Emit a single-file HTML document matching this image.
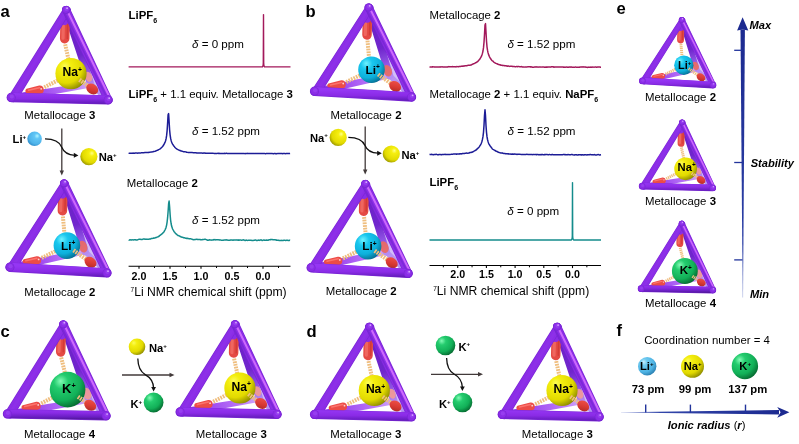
<!DOCTYPE html>
<html><head><meta charset="utf-8"><title>Figure</title>
<style>html,body{margin:0;padding:0;background:#fff}svg{display:block;will-change:transform}</style></head>
<body>
<svg width="799" height="444" viewBox="0 0 799 444" font-family="'Liberation Sans', sans-serif" fill="#000">

<defs>
  <radialGradient id="gNa" cx="0.36" cy="0.32" r="0.72" fx="0.30" fy="0.26">
    <stop offset="0" stop-color="#fcfc58"/><stop offset="0.25" stop-color="#f4ee10"/>
    <stop offset="0.7" stop-color="#e2da00"/><stop offset="1" stop-color="#8f8c00"/>
  </radialGradient>
  <radialGradient id="gLi" cx="0.36" cy="0.32" r="0.72" fx="0.30" fy="0.26">
    <stop offset="0" stop-color="#6ff2ff"/><stop offset="0.3" stop-color="#19c7ee"/>
    <stop offset="0.7" stop-color="#0db0dc"/><stop offset="1" stop-color="#066f92"/>
  </radialGradient>
  <radialGradient id="gK" cx="0.36" cy="0.32" r="0.72" fx="0.30" fy="0.26">
    <stop offset="0" stop-color="#84fbb6"/><stop offset="0.28" stop-color="#24cc6e"/>
    <stop offset="0.7" stop-color="#12b058"/><stop offset="1" stop-color="#066a30"/>
  </radialGradient>
  <radialGradient id="gLiS" cx="0.36" cy="0.32" r="0.72" fx="0.30" fy="0.26">
    <stop offset="0" stop-color="#c8f0ff"/><stop offset="0.25" stop-color="#6fcaf0"/>
    <stop offset="0.7" stop-color="#4fb4e4"/><stop offset="1" stop-color="#2a7eb0"/>
  </radialGradient>
  <linearGradient id="gV" x1="0" y1="0" x2="0" y2="1">
    <stop offset="0" stop-color="#1c2a90"/><stop offset="0.8" stop-color="#2c40a6"/><stop offset="1" stop-color="#8c9ad6"/>
  </linearGradient>
  <linearGradient id="gHz" x1="0" y1="0" x2="1" y2="0">
    <stop offset="0" stop-color="#9aa6dc"/><stop offset="0.25" stop-color="#3246aa"/><stop offset="1" stop-color="#1c2a90"/>
  </linearGradient>

  <radialGradient id="gNaR" cx="0.62" cy="0.36" r="0.72" fx="0.68" fy="0.30">
    <stop offset="0" stop-color="#ffff8a"/><stop offset="0.22" stop-color="#f6ef10"/>
    <stop offset="0.7" stop-color="#e2da00"/><stop offset="1" stop-color="#8f8c00"/>
  </radialGradient>
  <radialGradient id="gLiSR" cx="0.62" cy="0.36" r="0.72" fx="0.68" fy="0.30">
    <stop offset="0" stop-color="#b4f6ff"/><stop offset="0.25" stop-color="#62c6f6"/>
    <stop offset="0.7" stop-color="#4fb4ea"/><stop offset="1" stop-color="#2a86c4"/>
  </radialGradient>
<linearGradient id="gBot" gradientUnits="userSpaceOnUse" x1="0" y1="83" x2="0" y2="95"><stop offset="0" stop-color="#9536f4"/><stop offset="0.45" stop-color="#8a2be6"/><stop offset="0.8" stop-color="#691ec2"/><stop offset="1" stop-color="#4f1796"/></linearGradient>
<linearGradient id="gCap" x1="0.2" y1="0" x2="0.8" y2="1"><stop offset="0" stop-color="#f0524a"/><stop offset="0.55" stop-color="#d93a34"/><stop offset="1" stop-color="#b02a25"/></linearGradient>
<linearGradient id="gBLDNa" gradientUnits="userSpaceOnUse" x1="0.3" y1="87.3" x2="79.8" y2="74.5"><stop offset="0" stop-color="#8b2de6"/><stop offset="0.4" stop-color="#a04cf0"/><stop offset="0.72" stop-color="#b772f7"/><stop offset="1" stop-color="#d0aafa"/></linearGradient>
<linearGradient id="gASNa" gradientUnits="userSpaceOnUse" x1="55" y1="-0.3" x2="79.8" y2="74.5"><stop offset="0" stop-color="#6a20c4"/><stop offset="0.6" stop-color="#7026cd"/><stop offset="0.85" stop-color="#9358e6"/><stop offset="1" stop-color="#b58cf3"/></linearGradient>
<linearGradient id="gBLDLi" gradientUnits="userSpaceOnUse" x1="0.5" y1="84.2" x2="75.5" y2="68.5"><stop offset="0" stop-color="#8b2de6"/><stop offset="0.4" stop-color="#a04cf0"/><stop offset="0.72" stop-color="#b772f7"/><stop offset="1" stop-color="#d0aafa"/></linearGradient>
<linearGradient id="gASLi" gradientUnits="userSpaceOnUse" x1="54.5" y1="0.4" x2="75.5" y2="68.5"><stop offset="0" stop-color="#6a20c4"/><stop offset="0.6" stop-color="#7026cd"/><stop offset="0.85" stop-color="#9358e6"/><stop offset="1" stop-color="#b58cf3"/></linearGradient>
<linearGradient id="gBLDK" gradientUnits="userSpaceOnUse" x1="-0.2" y1="89.5" x2="81.2" y2="75.5"><stop offset="0" stop-color="#8b2de6"/><stop offset="0.4" stop-color="#a04cf0"/><stop offset="0.72" stop-color="#b772f7"/><stop offset="1" stop-color="#d0aafa"/></linearGradient>
<linearGradient id="gASK" gradientUnits="userSpaceOnUse" x1="55.5" y1="0" x2="81.2" y2="75.5"><stop offset="0" stop-color="#6a20c4"/><stop offset="0.6" stop-color="#7026cd"/><stop offset="0.85" stop-color="#9358e6"/><stop offset="1" stop-color="#b58cf3"/></linearGradient>
</defs>

<rect width="799" height="444" fill="#fff"/>
<text x="0.6" y="17.4" font-weight="bold" font-size="16.6">a</text>
<text x="305.6" y="17.4" font-weight="bold" font-size="16.6">b</text>
<text x="0.6" y="336.9" font-weight="bold" font-size="16.6">c</text>
<text x="306.6" y="336.9" font-weight="bold" font-size="16.6">d</text>
<text x="616.6" y="14.4" font-weight="bold" font-size="16.6">e</text>
<text x="616.6" y="336.4" font-weight="bold" font-size="16.6">f</text>
<g transform="translate(11,10.2) scale(1.0)">
<polygon points="55,-0.3 79.8,74.5 97.1,89.7" fill="#cdb6f8" opacity="0.9"/>
<path d="M0.93,91.65 L80.27,77.26 A2.8,2.8 0 0 0 79.33,71.74 L-0.33,84.15 A3.8,3.8 0 0 0 0.93,91.65 Z" fill="url(#gBLDNa)" />
<line x1="79.80" y1="74.50" x2="97.10" y2="89.70" stroke="#b792f3" stroke-width="5.4" stroke-linecap="round" />
<line x1="55.00" y1="-0.30" x2="79.80" y2="74.50" stroke="url(#gASNa)" stroke-width="7.4" stroke-linecap="round" />
<ellipse cx="77.6" cy="66.6" rx="3.5" ry="5.2" fill="#f29a96" opacity="0.92" transform="rotate(-22 77.6 66.6)"/>
<line x1="54.10" y1="13.00" x2="53.70" y2="28.45" stroke="#e44a44" stroke-width="9.5" stroke-linecap="round" />
<line x1="52.30" y1="14.00" x2="52.00" y2="28.00" stroke="#f26c64" stroke-width="3.2" stroke-linecap="round" opacity="0.85"/>
<line x1="56.60" y1="14.00" x2="56.30" y2="28.20" stroke="#c8342f" stroke-width="1.6" stroke-linecap="round" opacity="0.6"/>
<line x1="54.20" y1="34.10" x2="57.60" y2="49.80" stroke="#efbe7e" stroke-width="4.0" stroke-dasharray="1.75 0.95"/>
<path d="M17.21,83.48 L29.19,83.62 A4.15,4.15 0 0 0 28.21,75.38 L16.59,78.32 A2.6,2.6 0 0 0 17.21,83.48 Z" fill="#ec4c47" />
<line x1="17.50" y1="80.00" x2="28.50" y2="77.50" stroke="#ff7a72" stroke-width="1.5" stroke-linecap="round" opacity="0.85"/>
<circle cx="30.2" cy="78.6" r="0.9" fill="#fff" opacity="0.75"/>
<line x1="33.30" y1="77.10" x2="47.46" y2="69.84" stroke="#efbe7e" stroke-width="4.0" stroke-dasharray="1.75 0.95"/>
<circle cx="60" cy="63.4" r="15.6" fill="url(#gNa)"/>
<line x1="68.41" y1="69.51" x2="77.48" y2="76.10" stroke="#efbe7e" stroke-width="4.2" stroke-dasharray="1.75 0.95"/>
<ellipse cx="81.2" cy="78.8" rx="6.4" ry="5.0" fill="url(#gCap)" transform="rotate(36.0 81.2 78.8)"/>
<line x1="55.00" y1="-0.30" x2="53.50" y2="11.10" stroke="#8b2de6" stroke-width="7.6" stroke-linecap="round" />
<path d="M52.49,-1.99 L-1.75,84.81 A4.75,4.75 0 0 0 6.35,89.79 L59.31,2.19 A4.0,4.0 0 0 0 52.49,-1.99 Z" fill="#7a26d6" />
<path d="M53.05,-1.65 L-1.19,85.15 A4.1,4.1 0 0 0 5.79,89.45 L58.75,1.85 A3.35,3.35 0 0 0 53.05,-1.65 Z" fill="#8b2de6" />
<line x1="55.90" y1="0.10" x2="2.30" y2="87.30" stroke="#9339ee" stroke-width="2.6" stroke-linecap="round" opacity="0.3"/>
<line x1="55.20" y1="-0.30" x2="97.30" y2="89.70" stroke="#7a26d6" stroke-width="8.2" stroke-linecap="round" /><line x1="55.20" y1="-0.30" x2="97.30" y2="89.70" stroke="#8b2de6" stroke-width="6.8999999999999995" stroke-linecap="round" /><line x1="55.20" y1="-0.30" x2="97.30" y2="89.70" stroke="#9339ee" stroke-width="2.6239999999999997" stroke-linecap="round" opacity="0.3"/>
<line x1="53.10" y1="2.20" x2="94.80" y2="85.20" stroke="#6f22cc" stroke-width="1.8" stroke-linecap="round" opacity="0.55"/>
<line x1="56.50" y1="1.10" x2="98.20" y2="86.20" stroke="#d470ff" stroke-width="2.0" stroke-linecap="round" opacity="0.9"/>
<line x1="0.30" y1="87.30" x2="97.10" y2="89.70" stroke="#7a26d6" stroke-width="9.4" stroke-linecap="round" />
<line x1="0.30" y1="87.10" x2="97.10" y2="89.50" stroke="url(#gBot)" stroke-width="8.4" stroke-linecap="round" />
<circle cx="55" cy="-0.3" r="4.0" fill="#7a26d6"/>
<circle cx="55" cy="-0.6" r="3.3000000000000003" fill="#8b2de6"/>
<circle cx="55.5" cy="-1.3" r="2.1" fill="#9a42f2" opacity="0.8"/>
<circle cx="56.1" cy="-2.0" r="0.9" fill="#dcb0ff" opacity="0.9"/>
<circle cx="0.3" cy="87.3" r="4.4" fill="#7a26d6"/>
<circle cx="0.3" cy="87.0" r="3.7" fill="#8b2de6"/>
<circle cx="0.8" cy="86.3" r="2.1" fill="#9a42f2" opacity="0.8"/>
<circle cx="97.1" cy="89.7" r="4.4" fill="#7a26d6"/>
<circle cx="97.1" cy="89.4" r="3.7" fill="#8b2de6"/>
<circle cx="97.6" cy="88.7" r="2.1" fill="#9a42f2" opacity="0.8"/>
<circle cx="98.19999999999999" cy="88.0" r="0.9" fill="#dcb0ff" opacity="0.9"/>
<text x="61.3" y="66.00" text-anchor="middle" font-weight="bold" font-size="12.1">Na<tspan font-size="6.78" dy="-4.23">+</tspan></text>
</g>
<text x="59.8" y="118.5" text-anchor="middle" font-size="11.4">Metallocage <tspan font-weight="bold">3</tspan></text>
<g transform="translate(9.5,183.0) scale(1.0)">
<polygon points="54.5,0.4 75.5,68.5 97.4,89.9" fill="#cdb6f8" opacity="0.9"/>
<path d="M1.31,88.51 L76.09,71.24 A2.8,2.8 0 0 0 74.91,65.76 L-0.31,81.09 A3.8,3.8 0 0 0 1.31,88.51 Z" fill="url(#gBLDLi)" />
<line x1="75.50" y1="68.50" x2="97.40" y2="89.90" stroke="#b792f3" stroke-width="5.4" stroke-linecap="round" />
<line x1="54.50" y1="0.40" x2="75.50" y2="68.50" stroke="url(#gASLi)" stroke-width="7.4" stroke-linecap="round" />
<ellipse cx="73.4" cy="63.6" rx="4.3" ry="6.0" fill="#ea6a62" opacity="0.92" transform="rotate(-22 73.4 63.6)"/>
<line x1="53.30" y1="13.00" x2="52.90" y2="27.85" stroke="#e44a44" stroke-width="9.5" stroke-linecap="round" />
<line x1="51.50" y1="14.00" x2="51.20" y2="27.40" stroke="#f26c64" stroke-width="3.2" stroke-linecap="round" opacity="0.85"/>
<line x1="55.80" y1="14.00" x2="55.50" y2="27.60" stroke="#c8342f" stroke-width="1.6" stroke-linecap="round" opacity="0.6"/>
<line x1="53.40" y1="33.50" x2="55.00" y2="51.30" stroke="#efbe7e" stroke-width="4.0" stroke-dasharray="1.75 0.95"/>
<path d="M16.00,81.28 L28.08,81.42 A4.15,4.15 0 0 0 27.12,73.18 L15.40,76.12 A2.6,2.6 0 0 0 16.00,81.28 Z" fill="#ec4c47" />
<line x1="16.30" y1="77.80" x2="27.40" y2="75.30" stroke="#ff7a72" stroke-width="1.5" stroke-linecap="round" opacity="0.85"/>
<circle cx="29.1" cy="76.39999999999999" r="0.9" fill="#fff" opacity="0.75"/>
<line x1="32.20" y1="74.90" x2="46.80" y2="67.78" stroke="#efbe7e" stroke-width="4.0" stroke-dasharray="1.75 0.95"/>
<circle cx="57.4" cy="62.6" r="13.3" fill="url(#gLi)"/>
<line x1="64.01" y1="67.28" x2="77.25" y2="76.64" stroke="#efbe7e" stroke-width="4.2" stroke-dasharray="1.75 0.95"/>
<ellipse cx="81.0" cy="79.3" rx="6.4" ry="5.0" fill="url(#gCap)" transform="rotate(35.3 81.0 79.3)"/>
<line x1="54.50" y1="0.40" x2="53.00" y2="11.80" stroke="#8b2de6" stroke-width="7.6" stroke-linecap="round" />
<path d="M52.02,-1.34 L-1.51,81.66 A4.75,4.75 0 0 0 6.51,86.74 L58.78,2.94 A4.0,4.0 0 0 0 52.02,-1.34 Z" fill="#7a26d6" />
<path d="M52.57,-0.99 L-0.96,82.00 A4.1,4.1 0 0 0 5.96,86.40 L58.23,2.59 A3.35,3.35 0 0 0 52.57,-0.99 Z" fill="#8b2de6" />
<line x1="55.40" y1="0.80" x2="2.50" y2="84.20" stroke="#9339ee" stroke-width="2.6" stroke-linecap="round" opacity="0.3"/>
<line x1="54.70" y1="0.40" x2="97.60" y2="89.90" stroke="#7a26d6" stroke-width="8.2" stroke-linecap="round" /><line x1="54.70" y1="0.40" x2="97.60" y2="89.90" stroke="#8b2de6" stroke-width="6.8999999999999995" stroke-linecap="round" /><line x1="54.70" y1="0.40" x2="97.60" y2="89.90" stroke="#9339ee" stroke-width="2.6239999999999997" stroke-linecap="round" opacity="0.3"/>
<line x1="52.60" y1="2.90" x2="95.10" y2="85.40" stroke="#6f22cc" stroke-width="1.8" stroke-linecap="round" opacity="0.55"/>
<line x1="56.00" y1="1.80" x2="98.50" y2="86.40" stroke="#d470ff" stroke-width="2.0" stroke-linecap="round" opacity="0.9"/>
<line x1="0.50" y1="84.20" x2="97.40" y2="89.90" stroke="#7a26d6" stroke-width="9.4" stroke-linecap="round" />
<line x1="0.50" y1="84.00" x2="97.40" y2="89.70" stroke="url(#gBot)" stroke-width="8.4" stroke-linecap="round" />
<circle cx="54.5" cy="0.4" r="4.0" fill="#7a26d6"/>
<circle cx="54.5" cy="0.10000000000000003" r="3.3000000000000003" fill="#8b2de6"/>
<circle cx="55.0" cy="-0.6" r="2.1" fill="#9a42f2" opacity="0.8"/>
<circle cx="55.6" cy="-1.2999999999999998" r="0.9" fill="#dcb0ff" opacity="0.9"/>
<circle cx="0.5" cy="84.2" r="4.4" fill="#7a26d6"/>
<circle cx="0.5" cy="83.9" r="3.7" fill="#8b2de6"/>
<circle cx="1.0" cy="83.2" r="2.1" fill="#9a42f2" opacity="0.8"/>
<circle cx="97.4" cy="89.9" r="4.4" fill="#7a26d6"/>
<circle cx="97.4" cy="89.60000000000001" r="3.7" fill="#8b2de6"/>
<circle cx="97.9" cy="88.9" r="2.1" fill="#9a42f2" opacity="0.8"/>
<circle cx="98.5" cy="88.2" r="0.9" fill="#dcb0ff" opacity="0.9"/>
<text x="58.699999999999996" y="66.50" text-anchor="middle" font-weight="bold" font-size="11.8">Li<tspan font-size="6.61" dy="-4.13">+</tspan></text>
</g>
<text x="59.8" y="295.6" text-anchor="middle" font-size="11.4">Metallocage <tspan font-weight="bold">2</tspan></text>
<line x1="61.8" y1="128.5" x2="61.8" y2="172" stroke="#423a3a" stroke-width="1.3"/>
<polygon points="59.6,170.5 64,170.5 61.8,175.5" fill="#423a3a"/>
<text x="12.6" y="142.8" font-weight="bold" font-size="11.2" text-anchor="start">Li<tspan font-size="6.16" dy="-4.03">+</tspan></text>
<circle cx="34.6" cy="138.8" r="7.3" fill="url(#gLiSR)"/>
<path d="M45,138.8 C54,138.8 59.4,141.4 61.6,147 C63.6,152 68,155 74.8,155.3" fill="none" stroke="#111" stroke-width="1.3"/>
<polygon points="73.8,152.8 78.4,155.4 73.8,157.8" fill="#111"/>
<circle cx="88.9" cy="156.6" r="8.6" fill="url(#gNaR)"/>
<text x="98.7" y="161.2" font-weight="bold" font-size="11.2" text-anchor="start">Na<tspan font-size="6.16" dy="-4.03">+</tspan></text>
<text x="128.6" y="18.7" font-weight="bold" font-size="11.4">LiPF<tspan font-size="7" dy="3.9">6</tspan></text>
<path d="M128.6,66.9 H262.1 Q263.2,66.9 263.3,62.900000000000006 L263.5,14.6 L263.7,62.900000000000006 Q263.8,66.9 264.9,66.9 H290.5" fill="none" stroke="#a3195b" stroke-width="1.4" stroke-linejoin="round"/>
<text x="192" y="47.7" font-size="11.6"><tspan font-style="italic">δ</tspan> = 0 ppm</text>
<text x="128.6" y="98.2" font-size="11.4"><tspan font-weight="bold">LiPF</tspan><tspan font-weight="bold" font-size="7" dy="3.9">6</tspan><tspan dy="-3.9"> + 1.1 equiv. Metallocage </tspan><tspan font-weight="bold">3</tspan></text>
<polyline points="128.6,153.19 129.1,153.28 129.6,153.31 130.1,153.23 130.6,153.22 131.1,153.21 131.6,153.23 132.1,153.27 132.6,153.15 133.1,153.06 133.6,153.16 134.1,153.14 134.6,153.18 135.1,153.06 135.6,153.06 136.1,153.11 136.6,153.04 137.1,153.12 137.6,153.16 138.1,153.01 138.6,152.91 139.1,152.94 139.6,153.03 140.1,152.96 140.6,152.88 141.1,152.86 141.6,152.77 142.1,152.73 142.6,152.74 143.1,152.75 143.6,152.69 144.1,152.64 144.6,152.59 145.1,152.59 145.6,152.55 146.1,152.45 146.6,152.53 147.1,152.50 147.6,152.48 148.1,152.36 148.6,152.42 149.1,152.40 149.6,152.22 150.1,152.13 150.6,152.11 151.1,152.07 151.6,152.05 152.1,151.90 152.6,151.84 153.1,151.73 153.6,151.55 154.1,151.44 154.6,151.37 155.1,151.26 155.6,151.06 156.1,150.88 156.6,150.58 157.1,150.35 157.6,150.22 158.1,149.97 158.6,149.65 159.1,149.40 159.6,149.13 160.1,148.81 160.6,148.39 161.1,147.95 161.6,147.49 162.1,147.03 162.6,146.45 163.1,145.77 163.6,145.05 164.1,144.14 164.6,143.13 165.1,142.07 165.6,140.70 166.1,138.67 166.6,135.64 167.1,130.81 167.6,123.33 168.1,114.74 168.6,113.60 169.1,121.61 169.6,129.72 170.1,134.86 170.6,138.13 171.1,140.38 171.6,141.92 172.1,143.10 172.6,144.03 173.1,144.89 173.6,145.72 174.1,146.25 174.6,146.90 175.1,147.48 175.6,147.99 176.1,148.42 176.6,148.82 177.1,149.13 177.6,149.43 178.1,149.68 178.6,149.86 179.1,150.20 179.6,150.42 180.1,150.56 180.6,150.76 181.1,150.94 181.6,151.07 182.1,151.20 182.6,151.36 183.1,151.52 183.6,151.65 184.1,151.73 184.6,151.74 185.1,151.81 185.6,151.87 186.1,152.02 186.6,152.18 187.1,152.29 187.6,152.38 188.1,152.46 188.6,152.42 189.1,152.53 189.6,152.58 190.1,152.51 190.6,152.47 191.1,152.46 191.6,152.62 192.1,152.62 192.6,152.61 193.1,152.72 193.6,152.74 194.1,152.71 194.6,152.72 195.1,152.80 195.6,152.79 196.1,152.82 196.6,152.92 197.1,152.95 197.6,152.94 198.1,152.98 198.6,152.92 199.1,152.96 199.6,152.99 200.1,152.98 200.6,152.96 201.1,153.10 201.6,153.12 202.1,153.08 202.6,153.14 203.1,153.21 203.6,153.11 204.1,153.06 204.6,153.05 205.1,153.16 205.6,153.12 206.1,153.21 206.6,153.26 207.1,153.27 207.6,153.21 208.1,153.33 208.6,153.37 209.1,153.34 209.6,153.27 210.1,153.31 210.6,153.29 211.1,153.32 211.6,153.28 212.1,153.33 212.6,153.25 213.1,153.25 213.6,153.38 214.1,153.44 214.6,153.37 215.1,153.43 215.6,153.37 216.1,153.46 216.6,153.47 217.1,153.42 217.6,153.36 218.1,153.28 218.6,153.40 219.1,153.31 219.6,153.41 220.1,153.49 220.6,153.47 221.1,153.39 221.6,153.47 222.1,153.54 222.6,153.53 223.1,153.49 223.6,153.44 224.1,153.41 224.6,153.36 225.1,153.43 225.6,153.42 226.1,153.37 226.6,153.32 227.1,153.40 227.6,153.38 228.1,153.41 228.6,153.39 229.1,153.49 229.6,153.55 230.1,153.42 230.6,153.38 231.1,153.38 231.6,153.51 232.1,153.55 232.6,153.49 233.1,153.43 233.6,153.48 234.1,153.54 234.6,153.60 235.1,153.52 235.6,153.58 236.1,153.58 236.6,153.54 237.1,153.61 237.6,153.51 238.1,153.55 238.6,153.45 239.1,153.40 239.6,153.52 240.1,153.45 240.6,153.52 241.1,153.53 241.6,153.58 242.1,153.53 242.6,153.49 243.1,153.45 243.6,153.55 244.1,153.55 244.6,153.62 245.1,153.65 245.6,153.52 246.1,153.53 246.6,153.45 247.1,153.39 247.6,153.36 248.1,153.49 248.6,153.56 249.1,153.60 249.6,153.54 250.1,153.55 250.6,153.59 251.1,153.54 251.6,153.55 252.1,153.49 252.6,153.42 253.1,153.42 253.6,153.54 254.1,153.55 254.6,153.62 255.1,153.58 255.6,153.51 256.1,153.58 256.6,153.62 257.1,153.49 257.6,153.54 258.1,153.46 258.6,153.42 259.1,153.54 259.6,153.45 260.1,153.43 260.6,153.57 261.1,153.54 261.6,153.47 262.1,153.43 262.6,153.43 263.1,153.52 263.6,153.45 264.1,153.57 264.6,153.53 265.1,153.63 265.6,153.67 266.1,153.58 266.6,153.52 267.1,153.53 267.6,153.46 268.1,153.52 268.6,153.44 269.1,153.39 269.6,153.55 270.1,153.51 270.6,153.54 271.1,153.54 271.6,153.51 272.1,153.44 272.6,153.56 273.1,153.65 273.6,153.70 274.1,153.57 274.6,153.51 275.1,153.55 275.6,153.64 276.1,153.61 276.6,153.63 277.1,153.63 277.6,153.55 278.1,153.56 278.6,153.52 279.1,153.49 279.6,153.43 280.1,153.44 280.6,153.58 281.1,153.56 281.6,153.59 282.1,153.60 282.6,153.67 283.1,153.61 283.6,153.55 284.1,153.52 284.6,153.50 285.1,153.59 285.6,153.65 286.1,153.58 286.6,153.54 287.1,153.56 287.6,153.57 288.1,153.59 288.6,153.53 289.1,153.45 289.6,153.45 290.1,153.41" fill="none" stroke="#1c1c96" stroke-width="1.5" stroke-linejoin="round"/>
<text x="192" y="134.5" font-size="11.6"><tspan font-style="italic">δ</tspan> = 1.52 ppm</text>
<text x="126.8" y="186.9" font-size="11.4">Metallocage <tspan font-weight="bold">2</tspan></text>
<polyline points="128.6,240.14 129.1,240.26 129.6,239.88 130.1,239.66 130.6,239.90 131.1,240.00 131.6,240.01 132.1,239.83 132.6,239.87 133.1,239.89 133.6,239.88 134.1,239.66 134.6,239.65 135.1,239.63 135.6,239.77 136.1,239.99 136.6,240.09 137.1,239.94 137.6,239.79 138.1,239.60 138.6,239.35 139.1,239.20 139.6,239.31 140.1,239.30 140.6,239.31 141.1,239.57 141.6,239.53 142.1,239.51 142.6,239.31 143.1,239.08 143.6,239.07 144.1,238.96 144.6,239.07 145.1,239.37 145.6,239.36 146.1,239.09 146.6,239.27 147.1,239.30 147.6,239.27 148.1,239.31 148.6,239.24 149.1,239.18 149.6,238.90 150.1,239.02 150.6,239.04 151.1,238.61 151.6,238.62 152.1,238.57 152.6,238.36 153.1,238.22 153.6,238.07 154.1,238.15 154.6,237.92 155.1,237.88 155.6,237.55 156.1,237.55 156.6,237.48 157.1,237.12 157.6,236.87 158.1,236.79 158.6,236.54 159.1,236.14 159.6,235.63 160.1,235.24 160.6,235.04 161.1,234.47 161.6,234.32 162.1,233.70 162.6,233.43 163.1,232.70 163.6,232.32 164.1,231.63 164.6,230.74 165.1,229.76 165.6,228.65 166.1,227.18 166.6,225.05 167.1,222.03 167.6,217.71 168.1,211.45 168.6,203.96 169.1,201.07 169.6,206.73 170.1,214.32 170.6,220.09 171.1,223.51 171.6,226.09 172.1,227.55 172.6,229.00 173.1,229.93 173.6,230.71 174.1,231.74 174.6,232.17 175.1,232.84 175.6,233.58 176.1,233.88 176.6,234.20 177.1,234.87 177.6,235.16 178.1,235.60 178.6,235.63 179.1,235.91 179.6,236.07 180.1,236.51 180.6,236.55 181.1,237.09 181.6,237.00 182.1,237.37 182.6,237.29 183.1,237.41 183.6,237.82 184.1,237.78 184.6,237.80 185.1,238.12 185.6,238.19 186.1,238.09 186.6,238.55 187.1,238.43 187.6,238.32 188.1,238.44 188.6,238.68 189.1,238.91 189.6,238.75 190.1,238.79 190.6,238.67 191.1,238.84 191.6,239.11 192.1,239.29 192.6,239.49 193.1,239.55 193.6,239.65 194.1,239.65 194.6,239.54 195.1,239.36 195.6,239.49 196.1,239.40 196.6,239.24 197.1,239.34 197.6,239.62 198.1,239.42 198.6,239.54 199.1,239.53 199.6,239.59 200.1,239.44 200.6,239.78 201.1,239.63 201.6,239.72 202.1,239.69 202.6,239.47 203.1,239.62 203.6,239.50 204.1,239.40 204.6,239.32 205.1,239.35 205.6,239.34 206.1,239.61 206.6,239.72 207.1,240.03 207.6,240.19 208.1,240.32 208.6,240.02 209.1,239.95 209.6,239.81 210.1,239.90 210.6,239.98 211.1,240.12 211.6,240.16 212.1,239.96 212.6,239.92 213.1,239.96 213.6,239.71 214.1,239.59 214.6,239.70 215.1,239.62 215.6,239.89 216.1,239.81 216.6,239.69 217.1,239.66 217.6,239.67 218.1,239.67 218.6,239.83 219.1,239.90 219.6,239.86 220.1,240.01 220.6,239.88 221.1,240.16 221.6,240.36 222.1,240.36 222.6,240.22 223.1,240.17 223.6,240.18 224.1,239.91 224.6,239.94 225.1,240.02 225.6,239.89 226.1,239.76 226.6,240.06 227.1,240.01 227.6,240.06 228.1,240.30 228.6,240.28 229.1,240.11 229.6,240.36 230.1,240.20 230.6,239.93 231.1,240.10 231.6,239.91 232.1,239.90 232.6,240.17 233.1,240.25 233.6,239.96 234.1,240.01 234.6,240.02 235.1,240.07 235.6,239.95 236.1,240.08 236.6,239.89 237.1,239.89 237.6,239.93 238.1,240.25 238.6,240.00 239.1,240.20 239.6,240.03 240.1,240.12 240.6,240.09 241.1,240.10 241.6,240.26 242.1,240.17 242.6,239.98 243.1,239.87 243.6,239.78 244.1,240.12 244.6,240.22 245.1,240.44 245.6,240.44 246.1,240.10 246.6,240.22 247.1,240.35 247.6,240.40 248.1,240.32 248.6,240.20 249.1,240.18 249.6,240.34 250.1,240.16 250.6,240.19 251.1,240.19 251.6,240.43 252.1,240.49 252.6,240.60 253.1,240.61 253.6,240.35 254.1,240.16 254.6,240.17 255.1,240.06 255.6,240.09 256.1,240.23 256.6,240.44 257.1,240.39 257.6,240.48 258.1,240.17 258.6,240.12 259.1,240.41 259.6,240.15 260.1,240.14 260.6,239.95 261.1,239.85 261.6,240.20 262.1,240.46 262.6,240.44 263.1,240.17 263.6,240.09 264.1,240.00 264.6,240.18 265.1,240.29 265.6,240.23 266.1,240.23 266.6,240.01 267.1,240.08 267.6,240.30 268.1,240.30 268.6,239.92 269.1,239.85 269.6,239.85 270.1,239.56 270.6,239.67 271.1,239.49 271.6,239.50 272.1,239.38 272.6,239.65 273.1,239.76 273.6,239.79 274.1,239.64 274.6,239.76 275.1,239.66 275.6,239.91 276.1,240.23 276.6,240.07 277.1,240.14 277.6,240.18 278.1,240.16 278.6,240.30 279.1,240.50 279.6,240.51 280.1,240.39 280.6,240.57 281.1,240.35 281.6,240.44 282.1,240.44 282.6,240.50 283.1,240.58 283.6,240.31 284.1,240.35 284.6,240.26 285.1,240.34 285.6,240.55 286.1,240.50 286.6,240.15 287.1,240.17 287.6,240.31 288.1,240.49 288.6,240.47 289.1,240.55 289.6,240.18 290.1,240.44" fill="none" stroke="#148c8c" stroke-width="1.5" stroke-linejoin="round"/>
<text x="192" y="224" font-size="11.6"><tspan font-style="italic">δ</tspan> = 1.52 ppm</text>
<line x1="128.6" y1="266.2" x2="290.5" y2="266.2" stroke="#000" stroke-width="1.1"/>
<line x1="263" y1="266.2" x2="263" y2="268.8" stroke="#000" stroke-width="1.1"/>
<text x="263" y="279.7" text-anchor="middle" font-weight="bold" font-size="10.7">0.0</text>
<line x1="232" y1="266.2" x2="232" y2="268.8" stroke="#000" stroke-width="1.1"/>
<text x="232" y="279.7" text-anchor="middle" font-weight="bold" font-size="10.7">0.5</text>
<line x1="201" y1="266.2" x2="201" y2="268.8" stroke="#000" stroke-width="1.1"/>
<text x="201" y="279.7" text-anchor="middle" font-weight="bold" font-size="10.7">1.0</text>
<line x1="170" y1="266.2" x2="170" y2="268.8" stroke="#000" stroke-width="1.1"/>
<text x="170" y="279.7" text-anchor="middle" font-weight="bold" font-size="10.7">1.5</text>
<line x1="139" y1="266.2" x2="139" y2="268.8" stroke="#000" stroke-width="1.1"/>
<text x="139" y="279.7" text-anchor="middle" font-weight="bold" font-size="10.7">2.0</text>
<line x1="278.5" y1="266.2" x2="278.5" y2="268.0" stroke="#000" stroke-width="1"/>
<line x1="247.5" y1="266.2" x2="247.5" y2="268.0" stroke="#000" stroke-width="1"/>
<line x1="216.5" y1="266.2" x2="216.5" y2="268.0" stroke="#000" stroke-width="1"/>
<line x1="185.5" y1="266.2" x2="185.5" y2="268.0" stroke="#000" stroke-width="1"/>
<line x1="154.5" y1="266.2" x2="154.5" y2="268.0" stroke="#000" stroke-width="1"/>
<text x="130.5" y="296.2" font-size="12.15"><tspan font-size="6.5" dy="-3.8">7</tspan><tspan dy="3.8">Li NMR chemical shift (ppm)</tspan></text>
<g transform="translate(314.1,7.1) scale(1.0)">
<polygon points="54.5,0.4 75.5,68.5 97.4,89.9" fill="#cdb6f8" opacity="0.9"/>
<path d="M1.31,88.51 L76.09,71.24 A2.8,2.8 0 0 0 74.91,65.76 L-0.31,81.09 A3.8,3.8 0 0 0 1.31,88.51 Z" fill="url(#gBLDLi)" />
<line x1="75.50" y1="68.50" x2="97.40" y2="89.90" stroke="#b792f3" stroke-width="5.4" stroke-linecap="round" />
<line x1="54.50" y1="0.40" x2="75.50" y2="68.50" stroke="url(#gASLi)" stroke-width="7.4" stroke-linecap="round" />
<ellipse cx="73.4" cy="63.6" rx="4.3" ry="6.0" fill="#ea6a62" opacity="0.92" transform="rotate(-22 73.4 63.6)"/>
<line x1="53.30" y1="13.00" x2="52.90" y2="27.85" stroke="#e44a44" stroke-width="9.5" stroke-linecap="round" />
<line x1="51.50" y1="14.00" x2="51.20" y2="27.40" stroke="#f26c64" stroke-width="3.2" stroke-linecap="round" opacity="0.85"/>
<line x1="55.80" y1="14.00" x2="55.50" y2="27.60" stroke="#c8342f" stroke-width="1.6" stroke-linecap="round" opacity="0.6"/>
<line x1="53.40" y1="33.50" x2="55.00" y2="51.30" stroke="#efbe7e" stroke-width="4.0" stroke-dasharray="1.75 0.95"/>
<path d="M16.00,81.28 L28.08,81.42 A4.15,4.15 0 0 0 27.12,73.18 L15.40,76.12 A2.6,2.6 0 0 0 16.00,81.28 Z" fill="#ec4c47" />
<line x1="16.30" y1="77.80" x2="27.40" y2="75.30" stroke="#ff7a72" stroke-width="1.5" stroke-linecap="round" opacity="0.85"/>
<circle cx="29.1" cy="76.39999999999999" r="0.9" fill="#fff" opacity="0.75"/>
<line x1="32.20" y1="74.90" x2="46.80" y2="67.78" stroke="#efbe7e" stroke-width="4.0" stroke-dasharray="1.75 0.95"/>
<circle cx="57.4" cy="62.6" r="13.3" fill="url(#gLi)"/>
<line x1="64.01" y1="67.28" x2="77.25" y2="76.64" stroke="#efbe7e" stroke-width="4.2" stroke-dasharray="1.75 0.95"/>
<ellipse cx="81.0" cy="79.3" rx="6.4" ry="5.0" fill="url(#gCap)" transform="rotate(35.3 81.0 79.3)"/>
<line x1="54.50" y1="0.40" x2="53.00" y2="11.80" stroke="#8b2de6" stroke-width="7.6" stroke-linecap="round" />
<path d="M52.02,-1.34 L-1.51,81.66 A4.75,4.75 0 0 0 6.51,86.74 L58.78,2.94 A4.0,4.0 0 0 0 52.02,-1.34 Z" fill="#7a26d6" />
<path d="M52.57,-0.99 L-0.96,82.00 A4.1,4.1 0 0 0 5.96,86.40 L58.23,2.59 A3.35,3.35 0 0 0 52.57,-0.99 Z" fill="#8b2de6" />
<line x1="55.40" y1="0.80" x2="2.50" y2="84.20" stroke="#9339ee" stroke-width="2.6" stroke-linecap="round" opacity="0.3"/>
<line x1="54.70" y1="0.40" x2="97.60" y2="89.90" stroke="#7a26d6" stroke-width="8.2" stroke-linecap="round" /><line x1="54.70" y1="0.40" x2="97.60" y2="89.90" stroke="#8b2de6" stroke-width="6.8999999999999995" stroke-linecap="round" /><line x1="54.70" y1="0.40" x2="97.60" y2="89.90" stroke="#9339ee" stroke-width="2.6239999999999997" stroke-linecap="round" opacity="0.3"/>
<line x1="52.60" y1="2.90" x2="95.10" y2="85.40" stroke="#6f22cc" stroke-width="1.8" stroke-linecap="round" opacity="0.55"/>
<line x1="56.00" y1="1.80" x2="98.50" y2="86.40" stroke="#d470ff" stroke-width="2.0" stroke-linecap="round" opacity="0.9"/>
<line x1="0.50" y1="84.20" x2="97.40" y2="89.90" stroke="#7a26d6" stroke-width="9.4" stroke-linecap="round" />
<line x1="0.50" y1="84.00" x2="97.40" y2="89.70" stroke="url(#gBot)" stroke-width="8.4" stroke-linecap="round" />
<circle cx="54.5" cy="0.4" r="4.0" fill="#7a26d6"/>
<circle cx="54.5" cy="0.10000000000000003" r="3.3000000000000003" fill="#8b2de6"/>
<circle cx="55.0" cy="-0.6" r="2.1" fill="#9a42f2" opacity="0.8"/>
<circle cx="55.6" cy="-1.2999999999999998" r="0.9" fill="#dcb0ff" opacity="0.9"/>
<circle cx="0.5" cy="84.2" r="4.4" fill="#7a26d6"/>
<circle cx="0.5" cy="83.9" r="3.7" fill="#8b2de6"/>
<circle cx="1.0" cy="83.2" r="2.1" fill="#9a42f2" opacity="0.8"/>
<circle cx="97.4" cy="89.9" r="4.4" fill="#7a26d6"/>
<circle cx="97.4" cy="89.60000000000001" r="3.7" fill="#8b2de6"/>
<circle cx="97.9" cy="88.9" r="2.1" fill="#9a42f2" opacity="0.8"/>
<circle cx="98.5" cy="88.2" r="0.9" fill="#dcb0ff" opacity="0.9"/>
<text x="58.699999999999996" y="66.50" text-anchor="middle" font-weight="bold" font-size="11.8">Li<tspan font-size="6.61" dy="-4.13">+</tspan></text>
</g>
<text x="366" y="118.5" text-anchor="middle" font-size="11.4">Metallocage <tspan font-weight="bold">2</tspan></text>
<g transform="translate(310.7,183.5) scale(1.0)">
<polygon points="54.5,0.4 75.5,68.5 97.4,89.9" fill="#cdb6f8" opacity="0.9"/>
<path d="M1.31,88.51 L76.09,71.24 A2.8,2.8 0 0 0 74.91,65.76 L-0.31,81.09 A3.8,3.8 0 0 0 1.31,88.51 Z" fill="url(#gBLDLi)" />
<line x1="75.50" y1="68.50" x2="97.40" y2="89.90" stroke="#b792f3" stroke-width="5.4" stroke-linecap="round" />
<line x1="54.50" y1="0.40" x2="75.50" y2="68.50" stroke="url(#gASLi)" stroke-width="7.4" stroke-linecap="round" />
<ellipse cx="73.4" cy="63.6" rx="4.3" ry="6.0" fill="#ea6a62" opacity="0.92" transform="rotate(-22 73.4 63.6)"/>
<line x1="53.30" y1="13.00" x2="52.90" y2="27.85" stroke="#e44a44" stroke-width="9.5" stroke-linecap="round" />
<line x1="51.50" y1="14.00" x2="51.20" y2="27.40" stroke="#f26c64" stroke-width="3.2" stroke-linecap="round" opacity="0.85"/>
<line x1="55.80" y1="14.00" x2="55.50" y2="27.60" stroke="#c8342f" stroke-width="1.6" stroke-linecap="round" opacity="0.6"/>
<line x1="53.40" y1="33.50" x2="55.00" y2="51.30" stroke="#efbe7e" stroke-width="4.0" stroke-dasharray="1.75 0.95"/>
<path d="M16.00,81.28 L28.08,81.42 A4.15,4.15 0 0 0 27.12,73.18 L15.40,76.12 A2.6,2.6 0 0 0 16.00,81.28 Z" fill="#ec4c47" />
<line x1="16.30" y1="77.80" x2="27.40" y2="75.30" stroke="#ff7a72" stroke-width="1.5" stroke-linecap="round" opacity="0.85"/>
<circle cx="29.1" cy="76.39999999999999" r="0.9" fill="#fff" opacity="0.75"/>
<line x1="32.20" y1="74.90" x2="46.80" y2="67.78" stroke="#efbe7e" stroke-width="4.0" stroke-dasharray="1.75 0.95"/>
<circle cx="57.4" cy="62.6" r="13.3" fill="url(#gLi)"/>
<line x1="64.01" y1="67.28" x2="77.25" y2="76.64" stroke="#efbe7e" stroke-width="4.2" stroke-dasharray="1.75 0.95"/>
<ellipse cx="81.0" cy="79.3" rx="6.4" ry="5.0" fill="url(#gCap)" transform="rotate(35.3 81.0 79.3)"/>
<line x1="54.50" y1="0.40" x2="53.00" y2="11.80" stroke="#8b2de6" stroke-width="7.6" stroke-linecap="round" />
<path d="M52.02,-1.34 L-1.51,81.66 A4.75,4.75 0 0 0 6.51,86.74 L58.78,2.94 A4.0,4.0 0 0 0 52.02,-1.34 Z" fill="#7a26d6" />
<path d="M52.57,-0.99 L-0.96,82.00 A4.1,4.1 0 0 0 5.96,86.40 L58.23,2.59 A3.35,3.35 0 0 0 52.57,-0.99 Z" fill="#8b2de6" />
<line x1="55.40" y1="0.80" x2="2.50" y2="84.20" stroke="#9339ee" stroke-width="2.6" stroke-linecap="round" opacity="0.3"/>
<line x1="54.70" y1="0.40" x2="97.60" y2="89.90" stroke="#7a26d6" stroke-width="8.2" stroke-linecap="round" /><line x1="54.70" y1="0.40" x2="97.60" y2="89.90" stroke="#8b2de6" stroke-width="6.8999999999999995" stroke-linecap="round" /><line x1="54.70" y1="0.40" x2="97.60" y2="89.90" stroke="#9339ee" stroke-width="2.6239999999999997" stroke-linecap="round" opacity="0.3"/>
<line x1="52.60" y1="2.90" x2="95.10" y2="85.40" stroke="#6f22cc" stroke-width="1.8" stroke-linecap="round" opacity="0.55"/>
<line x1="56.00" y1="1.80" x2="98.50" y2="86.40" stroke="#d470ff" stroke-width="2.0" stroke-linecap="round" opacity="0.9"/>
<line x1="0.50" y1="84.20" x2="97.40" y2="89.90" stroke="#7a26d6" stroke-width="9.4" stroke-linecap="round" />
<line x1="0.50" y1="84.00" x2="97.40" y2="89.70" stroke="url(#gBot)" stroke-width="8.4" stroke-linecap="round" />
<circle cx="54.5" cy="0.4" r="4.0" fill="#7a26d6"/>
<circle cx="54.5" cy="0.10000000000000003" r="3.3000000000000003" fill="#8b2de6"/>
<circle cx="55.0" cy="-0.6" r="2.1" fill="#9a42f2" opacity="0.8"/>
<circle cx="55.6" cy="-1.2999999999999998" r="0.9" fill="#dcb0ff" opacity="0.9"/>
<circle cx="0.5" cy="84.2" r="4.4" fill="#7a26d6"/>
<circle cx="0.5" cy="83.9" r="3.7" fill="#8b2de6"/>
<circle cx="1.0" cy="83.2" r="2.1" fill="#9a42f2" opacity="0.8"/>
<circle cx="97.4" cy="89.9" r="4.4" fill="#7a26d6"/>
<circle cx="97.4" cy="89.60000000000001" r="3.7" fill="#8b2de6"/>
<circle cx="97.9" cy="88.9" r="2.1" fill="#9a42f2" opacity="0.8"/>
<circle cx="98.5" cy="88.2" r="0.9" fill="#dcb0ff" opacity="0.9"/>
<text x="58.699999999999996" y="66.50" text-anchor="middle" font-weight="bold" font-size="11.8">Li<tspan font-size="6.61" dy="-4.13">+</tspan></text>
</g>
<text x="361.2" y="295.2" text-anchor="middle" font-size="11.4">Metallocage <tspan font-weight="bold">2</tspan></text>
<line x1="365.2" y1="126.6" x2="365.2" y2="171" stroke="#423a3a" stroke-width="1.3"/>
<polygon points="363,169.5 367.4,169.5 365.2,174.5" fill="#423a3a"/>
<text x="309.9" y="141.5" font-weight="bold" font-size="11.2" text-anchor="start">Na<tspan font-size="6.16" dy="-4.03">+</tspan></text>
<circle cx="338.2" cy="137.4" r="8.6" fill="url(#gNaR)"/>
<path d="M348.3,137.3 C357.5,137.3 362.8,140 365,145.6 C367,150.6 371.4,153 378,153.2" fill="none" stroke="#111" stroke-width="1.3"/>
<polygon points="377.2,150.8 381.8,153.3 377.2,155.7" fill="#111"/>
<circle cx="391.3" cy="154" r="8.6" fill="url(#gNaR)"/>
<text x="401.4" y="158.7" font-weight="bold" font-size="11.2" text-anchor="start">Na<tspan font-size="6.16" dy="-4.03">+</tspan></text>
<text x="429.5" y="18.5" font-size="11.4">Metallocage <tspan font-weight="bold">2</tspan></text>
<polyline points="429.5,66.92 430.0,66.97 430.5,66.94 431.0,67.00 431.5,67.04 432.0,66.87 432.5,66.74 433.0,66.96 433.5,66.88 434.0,66.82 434.5,67.05 435.0,67.01 435.5,67.11 436.0,67.04 436.5,67.05 437.0,66.88 437.5,66.95 438.0,67.07 438.5,67.02 439.0,67.07 439.5,67.07 440.0,66.85 440.5,66.96 441.0,66.97 441.5,66.86 442.0,66.71 442.5,66.90 443.0,66.88 443.5,66.95 444.0,67.04 444.5,67.04 445.0,67.10 445.5,66.95 446.0,67.00 446.5,66.90 447.0,67.01 447.5,67.05 448.0,66.80 448.5,66.65 449.0,66.59 449.5,66.81 450.0,66.75 450.5,66.78 451.0,66.67 451.5,66.68 452.0,66.63 452.5,66.59 453.0,66.63 453.5,66.65 454.0,66.77 454.5,66.76 455.0,66.83 455.5,66.83 456.0,66.88 456.5,66.78 457.0,66.54 457.5,66.62 458.0,66.70 458.5,66.72 459.0,66.59 459.5,66.56 460.0,66.35 460.5,66.43 461.0,66.37 461.5,66.21 462.0,66.03 462.5,66.17 463.0,66.29 463.5,66.03 464.0,66.10 464.5,65.98 465.0,65.79 465.5,65.70 466.0,65.79 466.5,65.85 467.0,65.56 467.5,65.55 468.0,65.31 468.5,65.36 469.0,65.22 469.5,65.27 470.0,65.30 470.5,65.09 471.0,65.08 471.5,64.76 472.0,64.43 472.5,64.33 473.0,63.99 473.5,63.76 474.0,63.60 474.5,63.46 475.0,63.10 475.5,62.72 476.0,62.64 476.5,62.24 477.0,62.06 477.5,61.74 478.0,61.15 478.5,60.60 479.0,60.03 479.5,59.45 480.0,58.76 480.5,57.97 481.0,57.09 481.5,56.17 482.0,54.83 482.5,53.15 483.0,51.01 483.5,47.63 484.0,42.39 484.5,34.43 485.0,24.94 485.5,23.65 486.0,32.20 486.5,41.00 487.0,46.77 487.5,50.17 488.0,52.64 488.5,54.42 489.0,55.58 489.5,56.77 490.0,57.70 490.5,58.58 491.0,59.22 491.5,59.94 492.0,60.57 492.5,60.87 493.0,61.23 493.5,61.80 494.0,62.37 494.5,62.58 495.0,62.89 495.5,63.22 496.0,63.42 496.5,63.63 497.0,63.82 497.5,64.02 498.0,64.29 498.5,64.40 499.0,64.55 499.5,64.83 500.0,64.78 500.5,64.99 501.0,65.21 501.5,65.23 502.0,65.24 502.5,65.49 503.0,65.47 503.5,65.47 504.0,65.58 504.5,65.76 505.0,65.69 505.5,65.74 506.0,65.80 506.5,66.03 507.0,66.04 507.5,66.22 508.0,66.10 508.5,66.10 509.0,66.22 509.5,66.39 510.0,66.36 510.5,66.27 511.0,66.19 511.5,66.30 512.0,66.25 512.5,66.45 513.0,66.59 513.5,66.46 514.0,66.42 514.5,66.59 515.0,66.64 515.5,66.73 516.0,66.64 516.5,66.51 517.0,66.50 517.5,66.67 518.0,66.60 518.5,66.59 519.0,66.61 519.5,66.63 520.0,66.64 520.5,66.84 521.0,66.69 521.5,66.55 522.0,66.80 522.5,66.93 523.0,67.06 523.5,66.94 524.0,67.05 524.5,67.12 525.0,66.91 525.5,66.98 526.0,67.05 526.5,67.03 527.0,66.98 527.5,66.87 528.0,66.82 528.5,66.76 529.0,66.66 529.5,66.79 530.0,66.77 530.5,66.94 531.0,66.78 531.5,66.98 532.0,67.03 532.5,67.15 533.0,67.21 533.5,67.25 534.0,67.16 534.5,66.91 535.0,67.02 535.5,66.89 536.0,66.85 536.5,66.96 537.0,66.98 537.5,66.95 538.0,67.13 538.5,67.11 539.0,67.01 539.5,66.92 540.0,67.09 540.5,67.05 541.0,67.13 541.5,67.04 542.0,66.92 542.5,66.98 543.0,67.11 543.5,66.96 544.0,67.09 544.5,67.22 545.0,67.25 545.5,67.28 546.0,67.01 546.5,67.07 547.0,67.19 547.5,66.98 548.0,66.93 548.5,66.90 549.0,66.97 549.5,66.98 550.0,67.00 550.5,67.13 551.0,66.93 551.5,66.83 552.0,66.79 552.5,66.77 553.0,66.74 553.5,67.04 554.0,67.18 554.5,66.99 555.0,67.03 555.5,66.99 556.0,66.96 556.5,66.96 557.0,67.06 557.5,67.10 558.0,67.05 558.5,66.96 559.0,66.95 559.5,66.88 560.0,66.98 560.5,67.11 561.0,67.06 561.5,66.93 562.0,66.88 562.5,66.93 563.0,67.03 563.5,67.16 564.0,67.10 564.5,67.21 565.0,67.21 565.5,67.15 566.0,67.09 566.5,67.10 567.0,67.17 567.5,67.12 568.0,67.19 568.5,67.15 569.0,67.04 569.5,67.09 570.0,67.17 570.5,67.00 571.0,67.02 571.5,67.04 572.0,67.20 572.5,67.33 573.0,67.20 573.5,67.31 574.0,67.34 574.5,67.17 575.0,67.14 575.5,67.00 576.0,67.16 576.5,67.21 577.0,67.31 577.5,67.34 578.0,67.32 578.5,67.33 579.0,67.27 579.5,67.08 580.0,67.13 580.5,66.96 581.0,66.90 581.5,67.09 582.0,66.95 582.5,66.88 583.0,66.84 583.5,67.10 584.0,67.00 584.5,66.89 585.0,67.11 585.5,66.99 586.0,67.17 586.5,67.22 587.0,67.31 587.5,67.40 588.0,67.33 588.5,67.36 589.0,67.11 589.5,67.22 590.0,67.19 590.5,67.25 591.0,67.07 591.5,67.19 592.0,67.33 592.5,67.10 593.0,67.06 593.5,67.12 594.0,67.25 594.5,67.12 595.0,67.02 595.5,66.98 596.0,67.09 596.5,67.21 597.0,67.15 597.5,67.10 598.0,67.09 598.5,67.06 599.0,67.07 599.5,66.96 600.0,67.04 600.5,67.25 601.0,67.18" fill="none" stroke="#a3195b" stroke-width="1.5" stroke-linejoin="round"/>
<text x="507.4" y="47.7" font-size="11.6"><tspan font-style="italic">δ</tspan> = 1.52 ppm</text>
<text x="429.5" y="98.1" font-size="11.4">Metallocage <tspan font-weight="bold">2</tspan> + 1.1 equiv. <tspan font-weight="bold">NaPF</tspan><tspan font-weight="bold" font-size="7" dy="3.9">6</tspan></text>
<polyline points="429.5,154.52 430.0,154.43 430.5,154.46 431.0,154.40 431.5,154.34 432.0,154.41 432.5,154.61 433.0,154.69 433.5,154.73 434.0,154.58 434.5,154.58 435.0,154.50 435.5,154.42 436.0,154.34 436.5,154.33 437.0,154.55 437.5,154.65 438.0,154.70 438.5,154.72 439.0,154.54 439.5,154.47 440.0,154.52 440.5,154.59 441.0,154.66 441.5,154.71 442.0,154.48 442.5,154.51 443.0,154.55 443.5,154.51 444.0,154.38 444.5,154.39 445.0,154.27 445.5,154.47 446.0,154.56 446.5,154.51 447.0,154.40 447.5,154.52 448.0,154.48 448.5,154.55 449.0,154.58 449.5,154.48 450.0,154.38 450.5,154.38 451.0,154.32 451.5,154.19 452.0,154.15 452.5,154.29 453.0,154.11 453.5,154.00 454.0,154.11 454.5,154.06 455.0,154.10 455.5,154.10 456.0,154.05 456.5,154.22 457.0,154.05 457.5,154.01 458.0,153.91 458.5,153.97 459.0,153.88 459.5,153.84 460.0,153.93 460.5,153.83 461.0,153.83 461.5,153.93 462.0,153.71 462.5,153.55 463.0,153.48 463.5,153.60 464.0,153.59 464.5,153.45 465.0,153.36 465.5,153.24 466.0,153.22 466.5,153.05 467.0,153.12 467.5,153.19 468.0,153.22 468.5,153.12 469.0,153.09 469.5,152.72 470.0,152.53 470.5,152.58 471.0,152.48 471.5,152.24 472.0,152.20 472.5,151.99 473.0,151.84 473.5,151.49 474.0,151.14 474.5,150.90 475.0,150.53 475.5,150.25 476.0,150.12 476.5,149.68 477.0,149.12 477.5,148.60 478.0,148.11 478.5,147.76 479.0,147.14 479.5,146.44 480.0,145.61 480.5,145.00 481.0,143.98 481.5,142.72 482.0,141.17 482.5,139.18 483.0,136.42 483.5,132.30 484.0,125.33 484.5,115.60 485.0,109.85 485.5,115.68 486.0,125.56 486.5,132.32 487.0,136.64 487.5,139.50 488.0,141.38 488.5,142.98 489.0,144.07 489.5,144.93 490.0,145.76 490.5,146.38 491.0,147.09 491.5,147.66 492.0,148.39 492.5,148.97 493.0,149.36 493.5,149.58 494.0,149.91 494.5,150.21 495.0,150.49 495.5,150.76 496.0,151.21 496.5,151.32 497.0,151.44 497.5,151.85 498.0,152.04 498.5,152.35 499.0,152.40 499.5,152.64 500.0,152.75 500.5,152.90 501.0,153.01 501.5,153.04 502.0,152.95 502.5,152.97 503.0,153.23 503.5,153.42 504.0,153.56 504.5,153.48 505.0,153.56 505.5,153.68 506.0,153.71 506.5,153.81 507.0,153.79 507.5,153.84 508.0,153.89 508.5,153.81 509.0,153.98 509.5,154.11 510.0,153.91 510.5,154.09 511.0,154.21 511.5,154.20 512.0,154.00 512.5,154.17 513.0,154.03 513.5,154.22 514.0,154.25 514.5,154.08 515.0,154.02 515.5,154.14 516.0,154.20 516.5,154.30 517.0,154.42 517.5,154.28 518.0,154.13 518.5,154.34 519.0,154.18 519.5,154.36 520.0,154.23 520.5,154.38 521.0,154.47 521.5,154.56 522.0,154.51 522.5,154.59 523.0,154.42 523.5,154.48 524.0,154.41 524.5,154.55 525.0,154.60 525.5,154.53 526.0,154.51 526.5,154.35 527.0,154.25 527.5,154.38 528.0,154.42 528.5,154.57 529.0,154.58 529.5,154.44 530.0,154.43 530.5,154.55 531.0,154.55 531.5,154.39 532.0,154.56 532.5,154.66 533.0,154.48 533.5,154.53 534.0,154.50 534.5,154.62 535.0,154.54 535.5,154.47 536.0,154.51 536.5,154.69 537.0,154.52 537.5,154.43 538.0,154.53 538.5,154.68 539.0,154.66 539.5,154.62 540.0,154.73 540.5,154.77 541.0,154.57 541.5,154.71 542.0,154.58 542.5,154.54 543.0,154.68 543.5,154.64 544.0,154.73 544.5,154.59 545.0,154.73 545.5,154.59 546.0,154.50 546.5,154.56 547.0,154.54 547.5,154.60 548.0,154.75 548.5,154.78 549.0,154.57 549.5,154.55 550.0,154.61 550.5,154.63 551.0,154.71 551.5,154.69 552.0,154.55 552.5,154.52 553.0,154.69 553.5,154.64 554.0,154.74 554.5,154.87 555.0,154.84 555.5,154.83 556.0,154.81 556.5,154.70 557.0,154.83 557.5,154.76 558.0,154.87 558.5,154.73 559.0,154.84 559.5,154.87 560.0,154.84 560.5,154.76 561.0,154.62 561.5,154.74 562.0,154.68 562.5,154.74 563.0,154.61 563.5,154.51 564.0,154.48 564.5,154.67 565.0,154.58 565.5,154.76 566.0,154.70 566.5,154.73 567.0,154.68 567.5,154.73 568.0,154.59 568.5,154.61 569.0,154.79 569.5,154.66 570.0,154.73 570.5,154.67 571.0,154.63 571.5,154.51 572.0,154.44 572.5,154.70 573.0,154.82 573.5,154.88 574.0,154.91 574.5,154.98 575.0,154.77 575.5,154.78 576.0,154.76 576.5,154.77 577.0,154.90 577.5,154.91 578.0,154.99 578.5,154.77 579.0,154.80 579.5,154.83 580.0,154.87 580.5,154.85 581.0,154.91 581.5,154.78 582.0,154.90 582.5,154.81 583.0,154.81 583.5,154.91 584.0,154.91 584.5,154.78 585.0,154.68 585.5,154.65 586.0,154.73 586.5,154.89 587.0,154.96 587.5,154.84 588.0,154.77 588.5,154.86 589.0,154.75 589.5,154.72 590.0,154.57 590.5,154.54 591.0,154.64 591.5,154.74 592.0,154.78 592.5,154.73 593.0,154.88 593.5,154.87 594.0,154.71 594.5,154.59 595.0,154.81 595.5,154.94 596.0,155.00 596.5,154.93 597.0,154.80 597.5,154.65 598.0,154.62 598.5,154.58 599.0,154.79 599.5,154.90 600.0,154.93 600.5,154.75 601.0,154.67" fill="none" stroke="#1c1c96" stroke-width="1.5" stroke-linejoin="round"/>
<text x="507.5" y="134.5" font-size="11.6"><tspan font-style="italic">δ</tspan> = 1.52 ppm</text>
<text x="429.5" y="186.4" font-weight="bold" font-size="11.4">LiPF<tspan font-size="7" dy="3.9">6</tspan></text>
<path d="M429.5,240 H571.1 Q572.2,240 572.3,236 L572.5,182.6 L572.7,236 Q572.8,240 573.9,240 H601" fill="none" stroke="#148c8c" stroke-width="1.4" stroke-linejoin="round"/>
<text x="507.3" y="214.7" font-size="11.6"><tspan font-style="italic">δ</tspan> = 0 ppm</text>
<line x1="429.5" y1="265.5" x2="601" y2="265.5" stroke="#000" stroke-width="1.1"/>
<line x1="572.5" y1="265.5" x2="572.5" y2="268.1" stroke="#000" stroke-width="1.1"/>
<text x="572.5" y="278.4" text-anchor="middle" font-weight="bold" font-size="10.7">0.0</text>
<line x1="543.8" y1="265.5" x2="543.8" y2="268.1" stroke="#000" stroke-width="1.1"/>
<text x="543.8" y="278.4" text-anchor="middle" font-weight="bold" font-size="10.7">0.5</text>
<line x1="515.1" y1="265.5" x2="515.1" y2="268.1" stroke="#000" stroke-width="1.1"/>
<text x="515.1" y="278.4" text-anchor="middle" font-weight="bold" font-size="10.7">1.0</text>
<line x1="486.4" y1="265.5" x2="486.4" y2="268.1" stroke="#000" stroke-width="1.1"/>
<text x="486.4" y="278.4" text-anchor="middle" font-weight="bold" font-size="10.7">1.5</text>
<line x1="457.7" y1="265.5" x2="457.7" y2="268.1" stroke="#000" stroke-width="1.1"/>
<text x="457.7" y="278.4" text-anchor="middle" font-weight="bold" font-size="10.7">2.0</text>
<line x1="586.85" y1="265.5" x2="586.85" y2="267.3" stroke="#000" stroke-width="1"/>
<line x1="558.15" y1="265.5" x2="558.15" y2="267.3" stroke="#000" stroke-width="1"/>
<line x1="529.45" y1="265.5" x2="529.45" y2="267.3" stroke="#000" stroke-width="1"/>
<line x1="500.75" y1="265.5" x2="500.75" y2="267.3" stroke="#000" stroke-width="1"/>
<line x1="472.05" y1="265.5" x2="472.05" y2="267.3" stroke="#000" stroke-width="1"/>
<line x1="443.35" y1="265.5" x2="443.35" y2="267.3" stroke="#000" stroke-width="1"/>
<text x="433.2" y="295.2" font-size="12.15"><tspan font-size="6.5" dy="-3.8">7</tspan><tspan dy="3.8">Li NMR chemical shift (ppm)</tspan></text>
<g transform="translate(7.7,324.4) scale(1.0)">
<polygon points="55.5,0 81.2,75.5 98.3,91.4" fill="#cdb6f8" opacity="0.9"/>
<path d="M0.47,93.84 L81.69,78.26 A2.8,2.8 0 0 0 80.71,72.74 L-0.87,86.36 A3.8,3.8 0 0 0 0.47,93.84 Z" fill="url(#gBLDK)" />
<line x1="81.20" y1="75.50" x2="98.30" y2="91.40" stroke="#b792f3" stroke-width="5.4" stroke-linecap="round" />
<line x1="55.50" y1="0.00" x2="81.20" y2="75.50" stroke="url(#gASK)" stroke-width="7.4" stroke-linecap="round" />
<ellipse cx="79.2" cy="69.2" rx="4.3" ry="6.0" fill="#f29a96" opacity="0.92" transform="rotate(-22 79.2 69.2)"/>
<line x1="53.40" y1="13.00" x2="53.00" y2="27.55" stroke="#e44a44" stroke-width="9.5" stroke-linecap="round" />
<line x1="51.60" y1="14.00" x2="51.30" y2="27.10" stroke="#f26c64" stroke-width="3.2" stroke-linecap="round" opacity="0.85"/>
<line x1="55.90" y1="14.00" x2="55.60" y2="27.30" stroke="#c8342f" stroke-width="1.6" stroke-linecap="round" opacity="0.6"/>
<line x1="53.50" y1="33.20" x2="57.50" y2="49.40" stroke="#efbe7e" stroke-width="4.0" stroke-dasharray="1.75 0.95"/>
<path d="M16.75,85.68 L29.55,85.51 A4.15,4.15 0 0 0 28.45,77.29 L16.05,80.52 A2.6,2.6 0 0 0 16.75,85.68 Z" fill="#ec4c47" />
<line x1="17.00" y1="82.20" x2="28.80" y2="79.40" stroke="#ff7a72" stroke-width="1.5" stroke-linecap="round" opacity="0.85"/>
<circle cx="30.5" cy="80.5" r="0.9" fill="#fff" opacity="0.75"/>
<line x1="33.60" y1="79.00" x2="45.47" y2="72.77" stroke="#efbe7e" stroke-width="4.0" stroke-dasharray="1.75 0.95"/>
<circle cx="59.9" cy="65.2" r="17.8" fill="url(#gK)"/>
<line x1="70.25" y1="72.39" x2="78.72" y2="78.28" stroke="#efbe7e" stroke-width="4.2" stroke-dasharray="1.75 0.95"/>
<ellipse cx="82.5" cy="80.9" rx="6.4" ry="5.0" fill="url(#gCap)" transform="rotate(34.8 82.5 80.9)"/>
<line x1="55.50" y1="0.00" x2="54.00" y2="11.40" stroke="#8b2de6" stroke-width="7.6" stroke-linecap="round" />
<path d="M52.99,-1.69 L-2.25,87.02 A4.75,4.75 0 0 0 5.85,91.98 L59.81,2.49 A4.0,4.0 0 0 0 52.99,-1.69 Z" fill="#7a26d6" />
<path d="M53.54,-1.35 L-1.70,87.36 A4.1,4.1 0 0 0 5.30,91.64 L59.26,2.15 A3.35,3.35 0 0 0 53.54,-1.35 Z" fill="#8b2de6" />
<line x1="56.40" y1="0.40" x2="1.80" y2="89.50" stroke="#9339ee" stroke-width="2.6" stroke-linecap="round" opacity="0.3"/>
<line x1="55.70" y1="0.00" x2="98.50" y2="91.40" stroke="#7a26d6" stroke-width="8.2" stroke-linecap="round" /><line x1="55.70" y1="0.00" x2="98.50" y2="91.40" stroke="#8b2de6" stroke-width="6.8999999999999995" stroke-linecap="round" /><line x1="55.70" y1="0.00" x2="98.50" y2="91.40" stroke="#9339ee" stroke-width="2.6239999999999997" stroke-linecap="round" opacity="0.3"/>
<line x1="53.60" y1="2.50" x2="96.00" y2="86.90" stroke="#6f22cc" stroke-width="1.8" stroke-linecap="round" opacity="0.55"/>
<line x1="57.00" y1="1.40" x2="99.40" y2="87.90" stroke="#d470ff" stroke-width="2.0" stroke-linecap="round" opacity="0.9"/>
<line x1="-0.20" y1="89.50" x2="98.30" y2="91.40" stroke="#7a26d6" stroke-width="9.4" stroke-linecap="round" />
<line x1="-0.20" y1="89.30" x2="98.30" y2="91.20" stroke="url(#gBot)" stroke-width="8.4" stroke-linecap="round" />
<circle cx="55.5" cy="0" r="4.0" fill="#7a26d6"/>
<circle cx="55.5" cy="-0.3" r="3.3000000000000003" fill="#8b2de6"/>
<circle cx="56.0" cy="-1.0" r="2.1" fill="#9a42f2" opacity="0.8"/>
<circle cx="56.6" cy="-1.7" r="0.9" fill="#dcb0ff" opacity="0.9"/>
<circle cx="-0.2" cy="89.5" r="4.4" fill="#7a26d6"/>
<circle cx="-0.2" cy="89.2" r="3.7" fill="#8b2de6"/>
<circle cx="0.3" cy="88.5" r="2.1" fill="#9a42f2" opacity="0.8"/>
<circle cx="98.3" cy="91.4" r="4.4" fill="#7a26d6"/>
<circle cx="98.3" cy="91.10000000000001" r="3.7" fill="#8b2de6"/>
<circle cx="98.8" cy="90.4" r="2.1" fill="#9a42f2" opacity="0.8"/>
<circle cx="99.39999999999999" cy="89.7" r="0.9" fill="#dcb0ff" opacity="0.9"/>
<text x="61.199999999999996" y="68.40" text-anchor="middle" font-weight="bold" font-size="13.0">K<tspan font-size="7.28" dy="-4.55">+</tspan></text>
</g>
<text x="59.5" y="438.3" text-anchor="middle" font-size="11.4">Metallocage <tspan font-weight="bold">4</tspan></text>
<g transform="translate(179.9,324.6) scale(1.0)">
<polygon points="55,-0.3 79.8,74.5 97.1,89.7" fill="#cdb6f8" opacity="0.9"/>
<path d="M0.93,91.65 L80.27,77.26 A2.8,2.8 0 0 0 79.33,71.74 L-0.33,84.15 A3.8,3.8 0 0 0 0.93,91.65 Z" fill="url(#gBLDNa)" />
<line x1="79.80" y1="74.50" x2="97.10" y2="89.70" stroke="#b792f3" stroke-width="5.4" stroke-linecap="round" />
<line x1="55.00" y1="-0.30" x2="79.80" y2="74.50" stroke="url(#gASNa)" stroke-width="7.4" stroke-linecap="round" />
<ellipse cx="77.6" cy="66.6" rx="3.5" ry="5.2" fill="#f29a96" opacity="0.92" transform="rotate(-22 77.6 66.6)"/>
<line x1="54.10" y1="13.00" x2="53.70" y2="28.45" stroke="#e44a44" stroke-width="9.5" stroke-linecap="round" />
<line x1="52.30" y1="14.00" x2="52.00" y2="28.00" stroke="#f26c64" stroke-width="3.2" stroke-linecap="round" opacity="0.85"/>
<line x1="56.60" y1="14.00" x2="56.30" y2="28.20" stroke="#c8342f" stroke-width="1.6" stroke-linecap="round" opacity="0.6"/>
<line x1="54.20" y1="34.10" x2="57.60" y2="49.80" stroke="#efbe7e" stroke-width="4.0" stroke-dasharray="1.75 0.95"/>
<path d="M17.21,83.48 L29.19,83.62 A4.15,4.15 0 0 0 28.21,75.38 L16.59,78.32 A2.6,2.6 0 0 0 17.21,83.48 Z" fill="#ec4c47" />
<line x1="17.50" y1="80.00" x2="28.50" y2="77.50" stroke="#ff7a72" stroke-width="1.5" stroke-linecap="round" opacity="0.85"/>
<circle cx="30.2" cy="78.6" r="0.9" fill="#fff" opacity="0.75"/>
<line x1="33.30" y1="77.10" x2="47.46" y2="69.84" stroke="#efbe7e" stroke-width="4.0" stroke-dasharray="1.75 0.95"/>
<circle cx="60" cy="63.4" r="15.6" fill="url(#gNa)"/>
<line x1="68.41" y1="69.51" x2="77.48" y2="76.10" stroke="#efbe7e" stroke-width="4.2" stroke-dasharray="1.75 0.95"/>
<ellipse cx="81.2" cy="78.8" rx="6.4" ry="5.0" fill="url(#gCap)" transform="rotate(36.0 81.2 78.8)"/>
<line x1="55.00" y1="-0.30" x2="53.50" y2="11.10" stroke="#8b2de6" stroke-width="7.6" stroke-linecap="round" />
<path d="M52.49,-1.99 L-1.75,84.81 A4.75,4.75 0 0 0 6.35,89.79 L59.31,2.19 A4.0,4.0 0 0 0 52.49,-1.99 Z" fill="#7a26d6" />
<path d="M53.05,-1.65 L-1.19,85.15 A4.1,4.1 0 0 0 5.79,89.45 L58.75,1.85 A3.35,3.35 0 0 0 53.05,-1.65 Z" fill="#8b2de6" />
<line x1="55.90" y1="0.10" x2="2.30" y2="87.30" stroke="#9339ee" stroke-width="2.6" stroke-linecap="round" opacity="0.3"/>
<line x1="55.20" y1="-0.30" x2="97.30" y2="89.70" stroke="#7a26d6" stroke-width="8.2" stroke-linecap="round" /><line x1="55.20" y1="-0.30" x2="97.30" y2="89.70" stroke="#8b2de6" stroke-width="6.8999999999999995" stroke-linecap="round" /><line x1="55.20" y1="-0.30" x2="97.30" y2="89.70" stroke="#9339ee" stroke-width="2.6239999999999997" stroke-linecap="round" opacity="0.3"/>
<line x1="53.10" y1="2.20" x2="94.80" y2="85.20" stroke="#6f22cc" stroke-width="1.8" stroke-linecap="round" opacity="0.55"/>
<line x1="56.50" y1="1.10" x2="98.20" y2="86.20" stroke="#d470ff" stroke-width="2.0" stroke-linecap="round" opacity="0.9"/>
<line x1="0.30" y1="87.30" x2="97.10" y2="89.70" stroke="#7a26d6" stroke-width="9.4" stroke-linecap="round" />
<line x1="0.30" y1="87.10" x2="97.10" y2="89.50" stroke="url(#gBot)" stroke-width="8.4" stroke-linecap="round" />
<circle cx="55" cy="-0.3" r="4.0" fill="#7a26d6"/>
<circle cx="55" cy="-0.6" r="3.3000000000000003" fill="#8b2de6"/>
<circle cx="55.5" cy="-1.3" r="2.1" fill="#9a42f2" opacity="0.8"/>
<circle cx="56.1" cy="-2.0" r="0.9" fill="#dcb0ff" opacity="0.9"/>
<circle cx="0.3" cy="87.3" r="4.4" fill="#7a26d6"/>
<circle cx="0.3" cy="87.0" r="3.7" fill="#8b2de6"/>
<circle cx="0.8" cy="86.3" r="2.1" fill="#9a42f2" opacity="0.8"/>
<circle cx="97.1" cy="89.7" r="4.4" fill="#7a26d6"/>
<circle cx="97.1" cy="89.4" r="3.7" fill="#8b2de6"/>
<circle cx="97.6" cy="88.7" r="2.1" fill="#9a42f2" opacity="0.8"/>
<circle cx="98.19999999999999" cy="88.0" r="0.9" fill="#dcb0ff" opacity="0.9"/>
<text x="61.3" y="66.00" text-anchor="middle" font-weight="bold" font-size="12.1">Na<tspan font-size="6.78" dy="-4.23">+</tspan></text>
</g>
<text x="231.3" y="438.3" text-anchor="middle" font-size="11.4">Metallocage <tspan font-weight="bold">3</tspan></text>
<circle cx="137" cy="346.8" r="8.3" fill="url(#gNa)"/>
<text x="149" y="352" font-weight="bold" font-size="11.2" text-anchor="start">Na<tspan font-size="6.16" dy="-4.03">+</tspan></text>
<line x1="122" y1="375" x2="171" y2="375" stroke="#423a3a" stroke-width="1.3"/>
<polygon points="169.5,372.8 174.5,375 169.5,377.2" fill="#423a3a"/>
<path d="M137.8,358.6 C138,366.5 140,371.6 145.2,374.6 C150.6,377.6 153.3,381 153.6,388" fill="none" stroke="#111" stroke-width="1.3"/>
<polygon points="151.2,387 156,387 153.6,391.6" fill="#111"/>
<circle cx="153.6" cy="402.5" r="9.9" fill="url(#gK)"/>
<text x="130.5" y="407.8" font-weight="bold" font-size="11.2" text-anchor="start">K<tspan font-size="6.16" dy="-4.03">+</tspan></text>
<g transform="translate(314.3,327.1) scale(1.0)">
<polygon points="55,-0.3 79.8,74.5 97.1,89.7" fill="#cdb6f8" opacity="0.9"/>
<path d="M0.93,91.65 L80.27,77.26 A2.8,2.8 0 0 0 79.33,71.74 L-0.33,84.15 A3.8,3.8 0 0 0 0.93,91.65 Z" fill="url(#gBLDNa)" />
<line x1="79.80" y1="74.50" x2="97.10" y2="89.70" stroke="#b792f3" stroke-width="5.4" stroke-linecap="round" />
<line x1="55.00" y1="-0.30" x2="79.80" y2="74.50" stroke="url(#gASNa)" stroke-width="7.4" stroke-linecap="round" />
<ellipse cx="77.6" cy="66.6" rx="3.5" ry="5.2" fill="#f29a96" opacity="0.92" transform="rotate(-22 77.6 66.6)"/>
<line x1="54.10" y1="13.00" x2="53.70" y2="28.45" stroke="#e44a44" stroke-width="9.5" stroke-linecap="round" />
<line x1="52.30" y1="14.00" x2="52.00" y2="28.00" stroke="#f26c64" stroke-width="3.2" stroke-linecap="round" opacity="0.85"/>
<line x1="56.60" y1="14.00" x2="56.30" y2="28.20" stroke="#c8342f" stroke-width="1.6" stroke-linecap="round" opacity="0.6"/>
<line x1="54.20" y1="34.10" x2="57.60" y2="49.80" stroke="#efbe7e" stroke-width="4.0" stroke-dasharray="1.75 0.95"/>
<path d="M17.21,83.48 L29.19,83.62 A4.15,4.15 0 0 0 28.21,75.38 L16.59,78.32 A2.6,2.6 0 0 0 17.21,83.48 Z" fill="#ec4c47" />
<line x1="17.50" y1="80.00" x2="28.50" y2="77.50" stroke="#ff7a72" stroke-width="1.5" stroke-linecap="round" opacity="0.85"/>
<circle cx="30.2" cy="78.6" r="0.9" fill="#fff" opacity="0.75"/>
<line x1="33.30" y1="77.10" x2="47.46" y2="69.84" stroke="#efbe7e" stroke-width="4.0" stroke-dasharray="1.75 0.95"/>
<circle cx="60" cy="63.4" r="15.6" fill="url(#gNa)"/>
<line x1="68.41" y1="69.51" x2="77.48" y2="76.10" stroke="#efbe7e" stroke-width="4.2" stroke-dasharray="1.75 0.95"/>
<ellipse cx="81.2" cy="78.8" rx="6.4" ry="5.0" fill="url(#gCap)" transform="rotate(36.0 81.2 78.8)"/>
<line x1="55.00" y1="-0.30" x2="53.50" y2="11.10" stroke="#8b2de6" stroke-width="7.6" stroke-linecap="round" />
<path d="M52.49,-1.99 L-1.75,84.81 A4.75,4.75 0 0 0 6.35,89.79 L59.31,2.19 A4.0,4.0 0 0 0 52.49,-1.99 Z" fill="#7a26d6" />
<path d="M53.05,-1.65 L-1.19,85.15 A4.1,4.1 0 0 0 5.79,89.45 L58.75,1.85 A3.35,3.35 0 0 0 53.05,-1.65 Z" fill="#8b2de6" />
<line x1="55.90" y1="0.10" x2="2.30" y2="87.30" stroke="#9339ee" stroke-width="2.6" stroke-linecap="round" opacity="0.3"/>
<line x1="55.20" y1="-0.30" x2="97.30" y2="89.70" stroke="#7a26d6" stroke-width="8.2" stroke-linecap="round" /><line x1="55.20" y1="-0.30" x2="97.30" y2="89.70" stroke="#8b2de6" stroke-width="6.8999999999999995" stroke-linecap="round" /><line x1="55.20" y1="-0.30" x2="97.30" y2="89.70" stroke="#9339ee" stroke-width="2.6239999999999997" stroke-linecap="round" opacity="0.3"/>
<line x1="53.10" y1="2.20" x2="94.80" y2="85.20" stroke="#6f22cc" stroke-width="1.8" stroke-linecap="round" opacity="0.55"/>
<line x1="56.50" y1="1.10" x2="98.20" y2="86.20" stroke="#d470ff" stroke-width="2.0" stroke-linecap="round" opacity="0.9"/>
<line x1="0.30" y1="87.30" x2="97.10" y2="89.70" stroke="#7a26d6" stroke-width="9.4" stroke-linecap="round" />
<line x1="0.30" y1="87.10" x2="97.10" y2="89.50" stroke="url(#gBot)" stroke-width="8.4" stroke-linecap="round" />
<circle cx="55" cy="-0.3" r="4.0" fill="#7a26d6"/>
<circle cx="55" cy="-0.6" r="3.3000000000000003" fill="#8b2de6"/>
<circle cx="55.5" cy="-1.3" r="2.1" fill="#9a42f2" opacity="0.8"/>
<circle cx="56.1" cy="-2.0" r="0.9" fill="#dcb0ff" opacity="0.9"/>
<circle cx="0.3" cy="87.3" r="4.4" fill="#7a26d6"/>
<circle cx="0.3" cy="87.0" r="3.7" fill="#8b2de6"/>
<circle cx="0.8" cy="86.3" r="2.1" fill="#9a42f2" opacity="0.8"/>
<circle cx="97.1" cy="89.7" r="4.4" fill="#7a26d6"/>
<circle cx="97.1" cy="89.4" r="3.7" fill="#8b2de6"/>
<circle cx="97.6" cy="88.7" r="2.1" fill="#9a42f2" opacity="0.8"/>
<circle cx="98.19999999999999" cy="88.0" r="0.9" fill="#dcb0ff" opacity="0.9"/>
<text x="61.3" y="66.00" text-anchor="middle" font-weight="bold" font-size="12.1">Na<tspan font-size="6.78" dy="-4.23">+</tspan></text>
</g>
<text x="365.8" y="438.3" text-anchor="middle" font-size="11.4">Metallocage <tspan font-weight="bold">3</tspan></text>
<g transform="translate(502,327.1) scale(1.0)">
<polygon points="55,-0.3 79.8,74.5 97.1,89.7" fill="#cdb6f8" opacity="0.9"/>
<path d="M0.93,91.65 L80.27,77.26 A2.8,2.8 0 0 0 79.33,71.74 L-0.33,84.15 A3.8,3.8 0 0 0 0.93,91.65 Z" fill="url(#gBLDNa)" />
<line x1="79.80" y1="74.50" x2="97.10" y2="89.70" stroke="#b792f3" stroke-width="5.4" stroke-linecap="round" />
<line x1="55.00" y1="-0.30" x2="79.80" y2="74.50" stroke="url(#gASNa)" stroke-width="7.4" stroke-linecap="round" />
<ellipse cx="77.6" cy="66.6" rx="3.5" ry="5.2" fill="#f29a96" opacity="0.92" transform="rotate(-22 77.6 66.6)"/>
<line x1="54.10" y1="13.00" x2="53.70" y2="28.45" stroke="#e44a44" stroke-width="9.5" stroke-linecap="round" />
<line x1="52.30" y1="14.00" x2="52.00" y2="28.00" stroke="#f26c64" stroke-width="3.2" stroke-linecap="round" opacity="0.85"/>
<line x1="56.60" y1="14.00" x2="56.30" y2="28.20" stroke="#c8342f" stroke-width="1.6" stroke-linecap="round" opacity="0.6"/>
<line x1="54.20" y1="34.10" x2="57.60" y2="49.80" stroke="#efbe7e" stroke-width="4.0" stroke-dasharray="1.75 0.95"/>
<path d="M17.21,83.48 L29.19,83.62 A4.15,4.15 0 0 0 28.21,75.38 L16.59,78.32 A2.6,2.6 0 0 0 17.21,83.48 Z" fill="#ec4c47" />
<line x1="17.50" y1="80.00" x2="28.50" y2="77.50" stroke="#ff7a72" stroke-width="1.5" stroke-linecap="round" opacity="0.85"/>
<circle cx="30.2" cy="78.6" r="0.9" fill="#fff" opacity="0.75"/>
<line x1="33.30" y1="77.10" x2="47.46" y2="69.84" stroke="#efbe7e" stroke-width="4.0" stroke-dasharray="1.75 0.95"/>
<circle cx="60" cy="63.4" r="15.6" fill="url(#gNa)"/>
<line x1="68.41" y1="69.51" x2="77.48" y2="76.10" stroke="#efbe7e" stroke-width="4.2" stroke-dasharray="1.75 0.95"/>
<ellipse cx="81.2" cy="78.8" rx="6.4" ry="5.0" fill="url(#gCap)" transform="rotate(36.0 81.2 78.8)"/>
<line x1="55.00" y1="-0.30" x2="53.50" y2="11.10" stroke="#8b2de6" stroke-width="7.6" stroke-linecap="round" />
<path d="M52.49,-1.99 L-1.75,84.81 A4.75,4.75 0 0 0 6.35,89.79 L59.31,2.19 A4.0,4.0 0 0 0 52.49,-1.99 Z" fill="#7a26d6" />
<path d="M53.05,-1.65 L-1.19,85.15 A4.1,4.1 0 0 0 5.79,89.45 L58.75,1.85 A3.35,3.35 0 0 0 53.05,-1.65 Z" fill="#8b2de6" />
<line x1="55.90" y1="0.10" x2="2.30" y2="87.30" stroke="#9339ee" stroke-width="2.6" stroke-linecap="round" opacity="0.3"/>
<line x1="55.20" y1="-0.30" x2="97.30" y2="89.70" stroke="#7a26d6" stroke-width="8.2" stroke-linecap="round" /><line x1="55.20" y1="-0.30" x2="97.30" y2="89.70" stroke="#8b2de6" stroke-width="6.8999999999999995" stroke-linecap="round" /><line x1="55.20" y1="-0.30" x2="97.30" y2="89.70" stroke="#9339ee" stroke-width="2.6239999999999997" stroke-linecap="round" opacity="0.3"/>
<line x1="53.10" y1="2.20" x2="94.80" y2="85.20" stroke="#6f22cc" stroke-width="1.8" stroke-linecap="round" opacity="0.55"/>
<line x1="56.50" y1="1.10" x2="98.20" y2="86.20" stroke="#d470ff" stroke-width="2.0" stroke-linecap="round" opacity="0.9"/>
<line x1="0.30" y1="87.30" x2="97.10" y2="89.70" stroke="#7a26d6" stroke-width="9.4" stroke-linecap="round" />
<line x1="0.30" y1="87.10" x2="97.10" y2="89.50" stroke="url(#gBot)" stroke-width="8.4" stroke-linecap="round" />
<circle cx="55" cy="-0.3" r="4.0" fill="#7a26d6"/>
<circle cx="55" cy="-0.6" r="3.3000000000000003" fill="#8b2de6"/>
<circle cx="55.5" cy="-1.3" r="2.1" fill="#9a42f2" opacity="0.8"/>
<circle cx="56.1" cy="-2.0" r="0.9" fill="#dcb0ff" opacity="0.9"/>
<circle cx="0.3" cy="87.3" r="4.4" fill="#7a26d6"/>
<circle cx="0.3" cy="87.0" r="3.7" fill="#8b2de6"/>
<circle cx="0.8" cy="86.3" r="2.1" fill="#9a42f2" opacity="0.8"/>
<circle cx="97.1" cy="89.7" r="4.4" fill="#7a26d6"/>
<circle cx="97.1" cy="89.4" r="3.7" fill="#8b2de6"/>
<circle cx="97.6" cy="88.7" r="2.1" fill="#9a42f2" opacity="0.8"/>
<circle cx="98.19999999999999" cy="88.0" r="0.9" fill="#dcb0ff" opacity="0.9"/>
<text x="61.3" y="66.00" text-anchor="middle" font-weight="bold" font-size="12.1">Na<tspan font-size="6.78" dy="-4.23">+</tspan></text>
</g>
<text x="557.3" y="438.3" text-anchor="middle" font-size="11.4">Metallocage <tspan font-weight="bold">3</tspan></text>
<circle cx="445.5" cy="345.5" r="9.8" fill="url(#gK)"/>
<text x="458.5" y="350.5" font-weight="bold" font-size="11.2" text-anchor="start">K<tspan font-size="6.16" dy="-4.03">+</tspan></text>
<line x1="431" y1="374.3" x2="479.5" y2="374.3" stroke="#423a3a" stroke-width="1.3"/>
<polygon points="478,372.1 483,374.3 478,376.5" fill="#423a3a"/>
<path d="M446.6,358 C446.8,366 448.8,371 454,374 C459.4,377 462.1,380.4 462.4,387.4" fill="none" stroke="#111" stroke-width="1.3"/>
<polygon points="460,386.4 464.8,386.4 462.4,391" fill="#111"/>
<circle cx="462.5" cy="402.5" r="9.8" fill="url(#gK)"/>
<text x="439" y="407.8" font-weight="bold" font-size="11.2" text-anchor="start">K<tspan font-size="6.16" dy="-4.03">+</tspan></text>
<g transform="translate(642.1,19.7) scale(0.727)">
<polygon points="54.5,0.4 75.5,68.5 97.4,89.9" fill="#cdb6f8" opacity="0.9"/>
<path d="M1.31,88.51 L76.09,71.24 A2.8,2.8 0 0 0 74.91,65.76 L-0.31,81.09 A3.8,3.8 0 0 0 1.31,88.51 Z" fill="url(#gBLDLi)" />
<line x1="75.50" y1="68.50" x2="97.40" y2="89.90" stroke="#b792f3" stroke-width="5.4" stroke-linecap="round" />
<line x1="54.50" y1="0.40" x2="75.50" y2="68.50" stroke="url(#gASLi)" stroke-width="7.4" stroke-linecap="round" />
<ellipse cx="73.4" cy="63.6" rx="4.3" ry="6.0" fill="#ea6a62" opacity="0.92" transform="rotate(-22 73.4 63.6)"/>
<line x1="53.30" y1="13.00" x2="52.90" y2="27.85" stroke="#e44a44" stroke-width="9.5" stroke-linecap="round" />
<line x1="51.50" y1="14.00" x2="51.20" y2="27.40" stroke="#f26c64" stroke-width="3.2" stroke-linecap="round" opacity="0.85"/>
<line x1="55.80" y1="14.00" x2="55.50" y2="27.60" stroke="#c8342f" stroke-width="1.6" stroke-linecap="round" opacity="0.6"/>
<line x1="53.40" y1="33.50" x2="55.00" y2="51.30" stroke="#efbe7e" stroke-width="4.0" stroke-dasharray="1.75 0.95"/>
<path d="M16.00,81.28 L28.08,81.42 A4.15,4.15 0 0 0 27.12,73.18 L15.40,76.12 A2.6,2.6 0 0 0 16.00,81.28 Z" fill="#ec4c47" />
<line x1="16.30" y1="77.80" x2="27.40" y2="75.30" stroke="#ff7a72" stroke-width="1.5" stroke-linecap="round" opacity="0.85"/>
<circle cx="29.1" cy="76.39999999999999" r="0.9" fill="#fff" opacity="0.75"/>
<line x1="32.20" y1="74.90" x2="46.80" y2="67.78" stroke="#efbe7e" stroke-width="4.0" stroke-dasharray="1.75 0.95"/>
<circle cx="57.4" cy="62.6" r="13.3" fill="url(#gLi)"/>
<line x1="64.01" y1="67.28" x2="77.25" y2="76.64" stroke="#efbe7e" stroke-width="4.2" stroke-dasharray="1.75 0.95"/>
<ellipse cx="81.0" cy="79.3" rx="6.4" ry="5.0" fill="url(#gCap)" transform="rotate(35.3 81.0 79.3)"/>
<line x1="54.50" y1="0.40" x2="53.00" y2="11.80" stroke="#8b2de6" stroke-width="7.6" stroke-linecap="round" />
<path d="M52.02,-1.34 L-1.51,81.66 A4.75,4.75 0 0 0 6.51,86.74 L58.78,2.94 A4.0,4.0 0 0 0 52.02,-1.34 Z" fill="#7a26d6" />
<path d="M52.57,-0.99 L-0.96,82.00 A4.1,4.1 0 0 0 5.96,86.40 L58.23,2.59 A3.35,3.35 0 0 0 52.57,-0.99 Z" fill="#8b2de6" />
<line x1="55.40" y1="0.80" x2="2.50" y2="84.20" stroke="#9339ee" stroke-width="2.6" stroke-linecap="round" opacity="0.3"/>
<line x1="54.70" y1="0.40" x2="97.60" y2="89.90" stroke="#7a26d6" stroke-width="8.2" stroke-linecap="round" /><line x1="54.70" y1="0.40" x2="97.60" y2="89.90" stroke="#8b2de6" stroke-width="6.8999999999999995" stroke-linecap="round" /><line x1="54.70" y1="0.40" x2="97.60" y2="89.90" stroke="#9339ee" stroke-width="2.6239999999999997" stroke-linecap="round" opacity="0.3"/>
<line x1="52.60" y1="2.90" x2="95.10" y2="85.40" stroke="#6f22cc" stroke-width="1.8" stroke-linecap="round" opacity="0.55"/>
<line x1="56.00" y1="1.80" x2="98.50" y2="86.40" stroke="#d470ff" stroke-width="2.0" stroke-linecap="round" opacity="0.9"/>
<line x1="0.50" y1="84.20" x2="97.40" y2="89.90" stroke="#7a26d6" stroke-width="9.4" stroke-linecap="round" />
<line x1="0.50" y1="84.00" x2="97.40" y2="89.70" stroke="url(#gBot)" stroke-width="8.4" stroke-linecap="round" />
<circle cx="54.5" cy="0.4" r="4.0" fill="#7a26d6"/>
<circle cx="54.5" cy="0.10000000000000003" r="3.3000000000000003" fill="#8b2de6"/>
<circle cx="55.0" cy="-0.6" r="2.1" fill="#9a42f2" opacity="0.8"/>
<circle cx="55.6" cy="-1.2999999999999998" r="0.9" fill="#dcb0ff" opacity="0.9"/>
<circle cx="0.5" cy="84.2" r="4.4" fill="#7a26d6"/>
<circle cx="0.5" cy="83.9" r="3.7" fill="#8b2de6"/>
<circle cx="1.0" cy="83.2" r="2.1" fill="#9a42f2" opacity="0.8"/>
<circle cx="97.4" cy="89.9" r="4.4" fill="#7a26d6"/>
<circle cx="97.4" cy="89.60000000000001" r="3.7" fill="#8b2de6"/>
<circle cx="97.9" cy="88.9" r="2.1" fill="#9a42f2" opacity="0.8"/>
<circle cx="98.5" cy="88.2" r="0.9" fill="#dcb0ff" opacity="0.9"/>
<text x="58.699999999999996" y="67.59" text-anchor="middle" font-weight="bold" font-size="15.104000000000001">Li<tspan font-size="8.46" dy="-5.29">+</tspan></text>
</g>
<text x="680.5" y="101.3" text-anchor="middle" font-size="11.4">Metallocage <tspan font-weight="bold">2</tspan></text>
<g transform="translate(642.0,122.7) scale(0.727)">
<polygon points="55,-0.3 79.8,74.5 97.1,89.7" fill="#cdb6f8" opacity="0.9"/>
<path d="M0.93,91.65 L80.27,77.26 A2.8,2.8 0 0 0 79.33,71.74 L-0.33,84.15 A3.8,3.8 0 0 0 0.93,91.65 Z" fill="url(#gBLDNa)" />
<line x1="79.80" y1="74.50" x2="97.10" y2="89.70" stroke="#b792f3" stroke-width="5.4" stroke-linecap="round" />
<line x1="55.00" y1="-0.30" x2="79.80" y2="74.50" stroke="url(#gASNa)" stroke-width="7.4" stroke-linecap="round" />
<ellipse cx="77.6" cy="66.6" rx="3.5" ry="5.2" fill="#f29a96" opacity="0.92" transform="rotate(-22 77.6 66.6)"/>
<line x1="54.10" y1="13.00" x2="53.70" y2="28.45" stroke="#e44a44" stroke-width="9.5" stroke-linecap="round" />
<line x1="52.30" y1="14.00" x2="52.00" y2="28.00" stroke="#f26c64" stroke-width="3.2" stroke-linecap="round" opacity="0.85"/>
<line x1="56.60" y1="14.00" x2="56.30" y2="28.20" stroke="#c8342f" stroke-width="1.6" stroke-linecap="round" opacity="0.6"/>
<line x1="54.20" y1="34.10" x2="57.60" y2="49.80" stroke="#efbe7e" stroke-width="4.0" stroke-dasharray="1.75 0.95"/>
<path d="M17.21,83.48 L29.19,83.62 A4.15,4.15 0 0 0 28.21,75.38 L16.59,78.32 A2.6,2.6 0 0 0 17.21,83.48 Z" fill="#ec4c47" />
<line x1="17.50" y1="80.00" x2="28.50" y2="77.50" stroke="#ff7a72" stroke-width="1.5" stroke-linecap="round" opacity="0.85"/>
<circle cx="30.2" cy="78.6" r="0.9" fill="#fff" opacity="0.75"/>
<line x1="33.30" y1="77.10" x2="47.46" y2="69.84" stroke="#efbe7e" stroke-width="4.0" stroke-dasharray="1.75 0.95"/>
<circle cx="60" cy="63.4" r="15.6" fill="url(#gNa)"/>
<line x1="68.41" y1="69.51" x2="77.48" y2="76.10" stroke="#efbe7e" stroke-width="4.2" stroke-dasharray="1.75 0.95"/>
<ellipse cx="81.2" cy="78.8" rx="6.4" ry="5.0" fill="url(#gCap)" transform="rotate(36.0 81.2 78.8)"/>
<line x1="55.00" y1="-0.30" x2="53.50" y2="11.10" stroke="#8b2de6" stroke-width="7.6" stroke-linecap="round" />
<path d="M52.49,-1.99 L-1.75,84.81 A4.75,4.75 0 0 0 6.35,89.79 L59.31,2.19 A4.0,4.0 0 0 0 52.49,-1.99 Z" fill="#7a26d6" />
<path d="M53.05,-1.65 L-1.19,85.15 A4.1,4.1 0 0 0 5.79,89.45 L58.75,1.85 A3.35,3.35 0 0 0 53.05,-1.65 Z" fill="#8b2de6" />
<line x1="55.90" y1="0.10" x2="2.30" y2="87.30" stroke="#9339ee" stroke-width="2.6" stroke-linecap="round" opacity="0.3"/>
<line x1="55.20" y1="-0.30" x2="97.30" y2="89.70" stroke="#7a26d6" stroke-width="8.2" stroke-linecap="round" /><line x1="55.20" y1="-0.30" x2="97.30" y2="89.70" stroke="#8b2de6" stroke-width="6.8999999999999995" stroke-linecap="round" /><line x1="55.20" y1="-0.30" x2="97.30" y2="89.70" stroke="#9339ee" stroke-width="2.6239999999999997" stroke-linecap="round" opacity="0.3"/>
<line x1="53.10" y1="2.20" x2="94.80" y2="85.20" stroke="#6f22cc" stroke-width="1.8" stroke-linecap="round" opacity="0.55"/>
<line x1="56.50" y1="1.10" x2="98.20" y2="86.20" stroke="#d470ff" stroke-width="2.0" stroke-linecap="round" opacity="0.9"/>
<line x1="0.30" y1="87.30" x2="97.10" y2="89.70" stroke="#7a26d6" stroke-width="9.4" stroke-linecap="round" />
<line x1="0.30" y1="87.10" x2="97.10" y2="89.50" stroke="url(#gBot)" stroke-width="8.4" stroke-linecap="round" />
<circle cx="55" cy="-0.3" r="4.0" fill="#7a26d6"/>
<circle cx="55" cy="-0.6" r="3.3000000000000003" fill="#8b2de6"/>
<circle cx="55.5" cy="-1.3" r="2.1" fill="#9a42f2" opacity="0.8"/>
<circle cx="56.1" cy="-2.0" r="0.9" fill="#dcb0ff" opacity="0.9"/>
<circle cx="0.3" cy="87.3" r="4.4" fill="#7a26d6"/>
<circle cx="0.3" cy="87.0" r="3.7" fill="#8b2de6"/>
<circle cx="0.8" cy="86.3" r="2.1" fill="#9a42f2" opacity="0.8"/>
<circle cx="97.1" cy="89.7" r="4.4" fill="#7a26d6"/>
<circle cx="97.1" cy="89.4" r="3.7" fill="#8b2de6"/>
<circle cx="97.6" cy="88.7" r="2.1" fill="#9a42f2" opacity="0.8"/>
<circle cx="98.19999999999999" cy="88.0" r="0.9" fill="#dcb0ff" opacity="0.9"/>
<text x="61.3" y="66.73" text-anchor="middle" font-weight="bold" font-size="15.488">Na<tspan font-size="8.67" dy="-5.42">+</tspan></text>
</g>
<text x="680.5" y="205.2" text-anchor="middle" font-size="11.4">Metallocage <tspan font-weight="bold">3</tspan></text>
<g transform="translate(641.3,223.6) scale(0.727)">
<polygon points="55.5,0 81.2,75.5 98.3,91.4" fill="#cdb6f8" opacity="0.9"/>
<path d="M0.47,93.84 L81.69,78.26 A2.8,2.8 0 0 0 80.71,72.74 L-0.87,86.36 A3.8,3.8 0 0 0 0.47,93.84 Z" fill="url(#gBLDK)" />
<line x1="81.20" y1="75.50" x2="98.30" y2="91.40" stroke="#b792f3" stroke-width="5.4" stroke-linecap="round" />
<line x1="55.50" y1="0.00" x2="81.20" y2="75.50" stroke="url(#gASK)" stroke-width="7.4" stroke-linecap="round" />
<ellipse cx="79.2" cy="69.2" rx="4.3" ry="6.0" fill="#f29a96" opacity="0.92" transform="rotate(-22 79.2 69.2)"/>
<line x1="53.40" y1="13.00" x2="53.00" y2="27.55" stroke="#e44a44" stroke-width="9.5" stroke-linecap="round" />
<line x1="51.60" y1="14.00" x2="51.30" y2="27.10" stroke="#f26c64" stroke-width="3.2" stroke-linecap="round" opacity="0.85"/>
<line x1="55.90" y1="14.00" x2="55.60" y2="27.30" stroke="#c8342f" stroke-width="1.6" stroke-linecap="round" opacity="0.6"/>
<line x1="53.50" y1="33.20" x2="57.50" y2="49.40" stroke="#efbe7e" stroke-width="4.0" stroke-dasharray="1.75 0.95"/>
<path d="M16.75,85.68 L29.55,85.51 A4.15,4.15 0 0 0 28.45,77.29 L16.05,80.52 A2.6,2.6 0 0 0 16.75,85.68 Z" fill="#ec4c47" />
<line x1="17.00" y1="82.20" x2="28.80" y2="79.40" stroke="#ff7a72" stroke-width="1.5" stroke-linecap="round" opacity="0.85"/>
<circle cx="30.5" cy="80.5" r="0.9" fill="#fff" opacity="0.75"/>
<line x1="33.60" y1="79.00" x2="45.47" y2="72.77" stroke="#efbe7e" stroke-width="4.0" stroke-dasharray="1.75 0.95"/>
<circle cx="59.9" cy="65.2" r="17.8" fill="url(#gK)"/>
<line x1="70.25" y1="72.39" x2="78.72" y2="78.28" stroke="#efbe7e" stroke-width="4.2" stroke-dasharray="1.75 0.95"/>
<ellipse cx="82.5" cy="80.9" rx="6.4" ry="5.0" fill="url(#gCap)" transform="rotate(34.8 82.5 80.9)"/>
<line x1="55.50" y1="0.00" x2="54.00" y2="11.40" stroke="#8b2de6" stroke-width="7.6" stroke-linecap="round" />
<path d="M52.99,-1.69 L-2.25,87.02 A4.75,4.75 0 0 0 5.85,91.98 L59.81,2.49 A4.0,4.0 0 0 0 52.99,-1.69 Z" fill="#7a26d6" />
<path d="M53.54,-1.35 L-1.70,87.36 A4.1,4.1 0 0 0 5.30,91.64 L59.26,2.15 A3.35,3.35 0 0 0 53.54,-1.35 Z" fill="#8b2de6" />
<line x1="56.40" y1="0.40" x2="1.80" y2="89.50" stroke="#9339ee" stroke-width="2.6" stroke-linecap="round" opacity="0.3"/>
<line x1="55.70" y1="0.00" x2="98.50" y2="91.40" stroke="#7a26d6" stroke-width="8.2" stroke-linecap="round" /><line x1="55.70" y1="0.00" x2="98.50" y2="91.40" stroke="#8b2de6" stroke-width="6.8999999999999995" stroke-linecap="round" /><line x1="55.70" y1="0.00" x2="98.50" y2="91.40" stroke="#9339ee" stroke-width="2.6239999999999997" stroke-linecap="round" opacity="0.3"/>
<line x1="53.60" y1="2.50" x2="96.00" y2="86.90" stroke="#6f22cc" stroke-width="1.8" stroke-linecap="round" opacity="0.55"/>
<line x1="57.00" y1="1.40" x2="99.40" y2="87.90" stroke="#d470ff" stroke-width="2.0" stroke-linecap="round" opacity="0.9"/>
<line x1="-0.20" y1="89.50" x2="98.30" y2="91.40" stroke="#7a26d6" stroke-width="9.4" stroke-linecap="round" />
<line x1="-0.20" y1="89.30" x2="98.30" y2="91.20" stroke="url(#gBot)" stroke-width="8.4" stroke-linecap="round" />
<circle cx="55.5" cy="0" r="4.0" fill="#7a26d6"/>
<circle cx="55.5" cy="-0.3" r="3.3000000000000003" fill="#8b2de6"/>
<circle cx="56.0" cy="-1.0" r="2.1" fill="#9a42f2" opacity="0.8"/>
<circle cx="56.6" cy="-1.7" r="0.9" fill="#dcb0ff" opacity="0.9"/>
<circle cx="-0.2" cy="89.5" r="4.4" fill="#7a26d6"/>
<circle cx="-0.2" cy="89.2" r="3.7" fill="#8b2de6"/>
<circle cx="0.3" cy="88.5" r="2.1" fill="#9a42f2" opacity="0.8"/>
<circle cx="98.3" cy="91.4" r="4.4" fill="#7a26d6"/>
<circle cx="98.3" cy="91.10000000000001" r="3.7" fill="#8b2de6"/>
<circle cx="98.8" cy="90.4" r="2.1" fill="#9a42f2" opacity="0.8"/>
<circle cx="99.39999999999999" cy="89.7" r="0.9" fill="#dcb0ff" opacity="0.9"/>
<text x="61.199999999999996" y="69.10" text-anchor="middle" font-weight="bold" font-size="15.86">K<tspan font-size="8.88" dy="-5.55">+</tspan></text>
</g>
<text x="680.5" y="307.2" text-anchor="middle" font-size="11.4">Metallocage <tspan font-weight="bold">4</tspan></text>
<polygon points="740.5,29.5 744.9,29.5 743.05,297.5 742.65,297.5" fill="url(#gV)"/>
<polygon points="742.6,17.3 748.3,30.6 742.7,29.6 737.1,30.6" fill="#1c2a90"/>
<line x1="734.2" y1="50.3" x2="742.5" y2="50.3" stroke="#22349c" stroke-width="1.3"/>
<line x1="734.2" y1="162.5" x2="742.5" y2="162.5" stroke="#22349c" stroke-width="1.3"/>
<line x1="734.2" y1="259.9" x2="742.5" y2="259.9" stroke="#22349c" stroke-width="1.3"/>
<text x="749.5" y="29" font-weight="bold" font-style="italic" font-size="11.1">Max</text>
<text x="750.7" y="166.7" font-weight="bold" font-style="italic" font-size="11.1">Stability</text>
<text x="750" y="297.5" font-weight="bold" font-style="italic" font-size="11.1">Min</text>
<text x="707" y="343.8" text-anchor="middle" font-size="11.4">Coordination number = 4</text>
<circle cx="647.2" cy="366.3" r="9.2" fill="url(#gLiS)"/>
<circle cx="692.5" cy="366.3" r="11.5" fill="url(#gNa)"/>
<circle cx="744.9" cy="366" r="13.2" fill="url(#gK)"/>
<text x="646.8" y="370.4" font-weight="bold" font-size="11.2" text-anchor="middle">Li<tspan font-size="6.16" dy="-4.03">+</tspan></text>
<text x="692.6" y="370.4" font-weight="bold" font-size="11.2" text-anchor="middle">Na<tspan font-size="6.16" dy="-4.03">+</tspan></text>
<text x="745.2" y="370.2" font-weight="bold" font-size="11.2" text-anchor="middle">K<tspan font-size="6.16" dy="-4.03">+</tspan></text>
<text x="648" y="392.7" text-anchor="middle" font-weight="bold" font-size="11.3">73 pm</text>
<text x="695" y="392.7" text-anchor="middle" font-weight="bold" font-size="11.3">99 pm</text>
<text x="747.8" y="392.7" text-anchor="middle" font-weight="bold" font-size="11.3">137 pm</text>
<polygon points="621,412.15 779,410.1 779,414.45 621,412.5" fill="url(#gHz)"/>
<polygon points="789.4,412.3 777.2,406.9 780.6,412.3 777.2,417.7" fill="#1c2a90"/>
<line x1="645.7" y1="404.6" x2="645.7" y2="412.4" stroke="#22349c" stroke-width="1.4"/>
<line x1="690.4" y1="404.6" x2="690.4" y2="412.4" stroke="#22349c" stroke-width="1.4"/>
<line x1="745.5" y1="404.6" x2="745.5" y2="412.4" stroke="#22349c" stroke-width="1.4"/>
<text x="706.6" y="428.7" text-anchor="middle" font-weight="bold" font-style="italic" font-size="11.2">Ionic radius <tspan font-weight="normal" font-style="normal">(</tspan>r<tspan font-weight="normal" font-style="normal">)</tspan></text>
</svg>
</body></html>
